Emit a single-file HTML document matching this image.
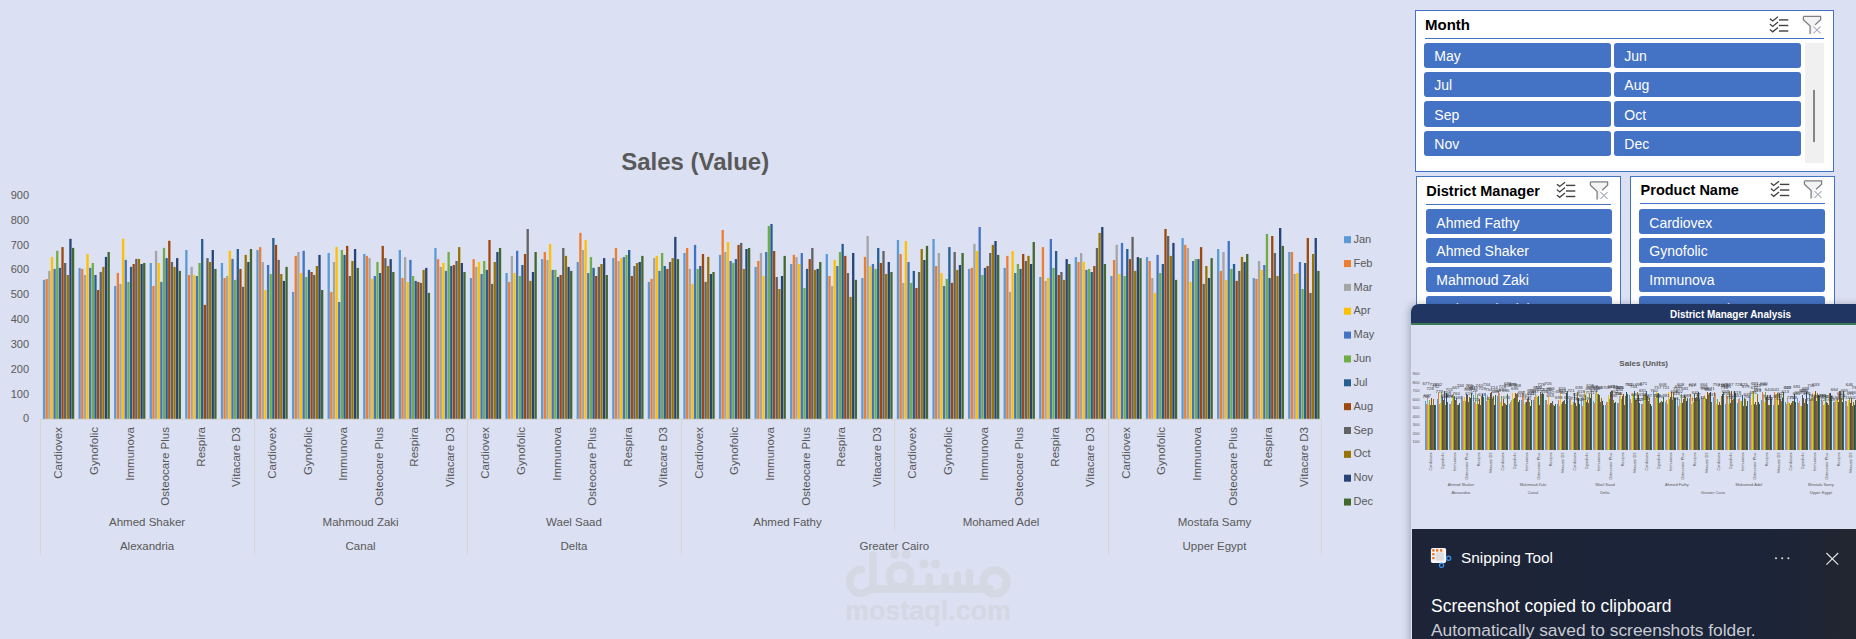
<!DOCTYPE html>
<html><head><meta charset="utf-8"><style>
html,body{margin:0;padding:0}
body{width:1856px;height:639px;overflow:hidden;position:relative;background:#DBE0F2;font-family:"Liberation Sans",sans-serif}
svg{font-family:"Liberation Sans",sans-serif}
.box{position:absolute;background:#FFFFFF;border:1px solid #4472C4}
.stitle{position:absolute;font-weight:bold;color:#000;white-space:nowrap;line-height:normal}
.uline{position:absolute;height:1.2px;background:#4472C4}
.btn{position:absolute;background:#4472C4;color:#FFFFFF;border-radius:3px;box-sizing:border-box;white-space:nowrap}
</style></head><body>
<svg style="position:absolute;left:0;top:0" width="1856" height="639">
<g fill="none" stroke="#D3D8E3" stroke-width="7.3" stroke-linecap="round" stroke-linejoin="round">
<path d="M861.5,569.5 A12,12 0 0 0 861.5,593.5"/>
<path d="M861.5,593.5 C866,593.5 868,589 874,589 L990,589"/>
<path d="M873,555 L873,589"/>
<circle cx="900" cy="576" r="10.9" stroke-width="7.2"/>
<path d="M929.2,577 L929.2,589 M945.2,577 L945.2,589 M957.4,575 L957.4,589 M969.5,572.5 L969.5,589"/>
<circle cx="995" cy="582" r="11.8" stroke-width="7.8"/>
</g>
<g fill="#D3D8E3"><circle cx="894.8" cy="554.3" r="4.6"/><circle cx="906.4" cy="554.3" r="4.6"/><circle cx="923.9" cy="564" r="4.6"/><circle cx="935.5" cy="564" r="4.6"/></g>
<text x="928" y="619.8" text-anchor="middle" font-weight="bold" font-size="27" fill="#D3D8E3" textLength="166" lengthAdjust="spacingAndGlyphs">mostaql.com</text>
<text x="695.2" y="170" text-anchor="middle" font-weight="bold" font-size="24" fill="#595959" textLength="148" lengthAdjust="spacingAndGlyphs">Sales (Value)</text>
<text x="29" y="422.47" text-anchor="end" font-size="11" fill="#595959">0</text>
<text x="29" y="397.64" text-anchor="end" font-size="11" fill="#595959">100</text>
<text x="29" y="372.81" text-anchor="end" font-size="11" fill="#595959">200</text>
<text x="29" y="347.98" text-anchor="end" font-size="11" fill="#595959">300</text>
<text x="29" y="323.15" text-anchor="end" font-size="11" fill="#595959">400</text>
<text x="29" y="298.32" text-anchor="end" font-size="11" fill="#595959">500</text>
<text x="29" y="273.49" text-anchor="end" font-size="11" fill="#595959">600</text>
<text x="29" y="248.66" text-anchor="end" font-size="11" fill="#595959">700</text>
<text x="29" y="223.83" text-anchor="end" font-size="11" fill="#595959">800</text>
<text x="29" y="199.00" text-anchor="end" font-size="11" fill="#595959">900</text>
<rect x="42.90" y="279.9" width="2.3" height="138.9" fill="#5B9BD5"/>
<rect x="45.54" y="279.1" width="2.3" height="139.7" fill="#ED7D31"/>
<rect x="48.18" y="270.9" width="2.3" height="147.9" fill="#A5A5A5"/>
<rect x="50.82" y="256.9" width="2.3" height="161.9" fill="#FFC000"/>
<rect x="53.46" y="268.9" width="2.3" height="149.9" fill="#4472C4"/>
<rect x="56.10" y="250.8" width="2.3" height="168.0" fill="#70AD47"/>
<rect x="58.74" y="267.9" width="2.3" height="150.9" fill="#255E91"/>
<rect x="61.38" y="247.1" width="2.3" height="171.7" fill="#9E480E"/>
<rect x="64.02" y="263.0" width="2.3" height="155.8" fill="#636363"/>
<rect x="66.66" y="275.0" width="2.3" height="143.8" fill="#997300"/>
<rect x="69.30" y="238.8" width="2.3" height="180.0" fill="#264478"/>
<rect x="71.94" y="247.9" width="2.3" height="170.9" fill="#43682B"/>
<rect x="78.48" y="267.9" width="2.3" height="150.9" fill="#5B9BD5"/>
<rect x="81.12" y="268.9" width="2.3" height="149.9" fill="#ED7D31"/>
<rect x="83.76" y="275.0" width="2.3" height="143.8" fill="#A5A5A5"/>
<rect x="86.40" y="254.0" width="2.3" height="164.8" fill="#FFC000"/>
<rect x="89.04" y="267.9" width="2.3" height="150.9" fill="#4472C4"/>
<rect x="91.68" y="263.0" width="2.3" height="155.8" fill="#70AD47"/>
<rect x="94.32" y="275.0" width="2.3" height="143.8" fill="#255E91"/>
<rect x="96.96" y="290.0" width="2.3" height="128.8" fill="#9E480E"/>
<rect x="99.60" y="271.9" width="2.3" height="146.9" fill="#636363"/>
<rect x="102.24" y="266.9" width="2.3" height="151.9" fill="#997300"/>
<rect x="104.88" y="256.9" width="2.3" height="161.9" fill="#264478"/>
<rect x="107.52" y="252.0" width="2.3" height="166.8" fill="#43682B"/>
<rect x="114.06" y="286.0" width="2.3" height="132.8" fill="#5B9BD5"/>
<rect x="116.70" y="272.9" width="2.3" height="145.9" fill="#ED7D31"/>
<rect x="119.34" y="284.0" width="2.3" height="134.8" fill="#A5A5A5"/>
<rect x="121.98" y="238.8" width="2.3" height="180.0" fill="#FFC000"/>
<rect x="124.62" y="259.9" width="2.3" height="158.9" fill="#4472C4"/>
<rect x="127.26" y="281.9" width="2.3" height="136.9" fill="#70AD47"/>
<rect x="129.90" y="266.9" width="2.3" height="151.9" fill="#255E91"/>
<rect x="132.54" y="264.0" width="2.3" height="154.8" fill="#9E480E"/>
<rect x="135.18" y="258.9" width="2.3" height="159.9" fill="#636363"/>
<rect x="137.82" y="258.9" width="2.3" height="159.9" fill="#997300"/>
<rect x="140.46" y="264.0" width="2.3" height="154.8" fill="#264478"/>
<rect x="143.10" y="263.0" width="2.3" height="155.8" fill="#43682B"/>
<rect x="149.64" y="263.0" width="2.3" height="155.8" fill="#5B9BD5"/>
<rect x="152.28" y="286.0" width="2.3" height="132.8" fill="#ED7D31"/>
<rect x="154.92" y="250.8" width="2.3" height="168.0" fill="#A5A5A5"/>
<rect x="157.56" y="263.0" width="2.3" height="155.8" fill="#FFC000"/>
<rect x="160.20" y="281.9" width="2.3" height="136.9" fill="#4472C4"/>
<rect x="162.84" y="247.9" width="2.3" height="170.9" fill="#70AD47"/>
<rect x="165.48" y="258.1" width="2.3" height="160.7" fill="#255E91"/>
<rect x="168.12" y="240.8" width="2.3" height="178.0" fill="#9E480E"/>
<rect x="170.76" y="262.0" width="2.3" height="156.8" fill="#636363"/>
<rect x="173.40" y="266.9" width="2.3" height="151.9" fill="#997300"/>
<rect x="176.04" y="258.1" width="2.3" height="160.7" fill="#264478"/>
<rect x="178.68" y="270.9" width="2.3" height="147.9" fill="#43682B"/>
<rect x="185.22" y="250.0" width="2.3" height="168.8" fill="#5B9BD5"/>
<rect x="187.86" y="275.0" width="2.3" height="143.8" fill="#ED7D31"/>
<rect x="190.50" y="266.9" width="2.3" height="151.9" fill="#A5A5A5"/>
<rect x="193.14" y="275.0" width="2.3" height="143.8" fill="#FFC000"/>
<rect x="195.78" y="276.0" width="2.3" height="142.8" fill="#4472C4"/>
<rect x="198.42" y="263.0" width="2.3" height="155.8" fill="#70AD47"/>
<rect x="201.06" y="239.0" width="2.3" height="179.8" fill="#255E91"/>
<rect x="203.70" y="304.9" width="2.3" height="113.9" fill="#9E480E"/>
<rect x="206.34" y="258.1" width="2.3" height="160.7" fill="#636363"/>
<rect x="208.98" y="262.0" width="2.3" height="156.8" fill="#997300"/>
<rect x="211.62" y="250.0" width="2.3" height="168.8" fill="#264478"/>
<rect x="214.26" y="268.9" width="2.3" height="149.9" fill="#43682B"/>
<rect x="220.80" y="263.0" width="2.3" height="155.8" fill="#5B9BD5"/>
<rect x="223.44" y="278.0" width="2.3" height="140.8" fill="#ED7D31"/>
<rect x="226.08" y="276.0" width="2.3" height="142.8" fill="#A5A5A5"/>
<rect x="228.72" y="250.8" width="2.3" height="168.0" fill="#FFC000"/>
<rect x="231.36" y="258.9" width="2.3" height="159.9" fill="#4472C4"/>
<rect x="234.00" y="279.9" width="2.3" height="138.9" fill="#70AD47"/>
<rect x="236.64" y="249.0" width="2.3" height="169.8" fill="#255E91"/>
<rect x="239.28" y="268.9" width="2.3" height="149.9" fill="#9E480E"/>
<rect x="241.92" y="286.8" width="2.3" height="132.0" fill="#636363"/>
<rect x="244.56" y="254.9" width="2.3" height="163.9" fill="#997300"/>
<rect x="247.20" y="262.0" width="2.3" height="156.8" fill="#264478"/>
<rect x="249.84" y="249.0" width="2.3" height="169.8" fill="#43682B"/>
<rect x="256.38" y="250.0" width="2.3" height="168.8" fill="#5B9BD5"/>
<rect x="259.02" y="247.1" width="2.3" height="171.7" fill="#ED7D31"/>
<rect x="261.66" y="262.0" width="2.3" height="156.8" fill="#A5A5A5"/>
<rect x="264.30" y="290.0" width="2.3" height="128.8" fill="#FFC000"/>
<rect x="266.94" y="265.0" width="2.3" height="153.8" fill="#4472C4"/>
<rect x="269.58" y="274.0" width="2.3" height="144.8" fill="#70AD47"/>
<rect x="272.22" y="238.0" width="2.3" height="180.8" fill="#255E91"/>
<rect x="274.86" y="244.9" width="2.3" height="173.9" fill="#9E480E"/>
<rect x="277.50" y="259.9" width="2.3" height="158.9" fill="#636363"/>
<rect x="280.14" y="274.0" width="2.3" height="144.8" fill="#997300"/>
<rect x="282.78" y="280.9" width="2.3" height="137.9" fill="#264478"/>
<rect x="285.42" y="266.9" width="2.3" height="151.9" fill="#43682B"/>
<rect x="291.96" y="291.9" width="2.3" height="126.9" fill="#5B9BD5"/>
<rect x="294.60" y="255.9" width="2.3" height="162.9" fill="#ED7D31"/>
<rect x="297.24" y="252.0" width="2.3" height="166.8" fill="#A5A5A5"/>
<rect x="299.88" y="273.0" width="2.3" height="145.8" fill="#FFC000"/>
<rect x="302.52" y="250.8" width="2.3" height="168.0" fill="#4472C4"/>
<rect x="305.16" y="277.0" width="2.3" height="141.8" fill="#70AD47"/>
<rect x="307.80" y="269.9" width="2.3" height="148.9" fill="#255E91"/>
<rect x="310.44" y="272.0" width="2.3" height="146.8" fill="#9E480E"/>
<rect x="313.08" y="275.0" width="2.3" height="143.8" fill="#636363"/>
<rect x="315.72" y="266.0" width="2.3" height="152.8" fill="#997300"/>
<rect x="318.36" y="254.9" width="2.3" height="163.9" fill="#264478"/>
<rect x="321.00" y="290.0" width="2.3" height="128.8" fill="#43682B"/>
<rect x="327.54" y="253.0" width="2.3" height="165.8" fill="#5B9BD5"/>
<rect x="330.18" y="291.9" width="2.3" height="126.9" fill="#ED7D31"/>
<rect x="332.82" y="262.0" width="2.3" height="156.8" fill="#A5A5A5"/>
<rect x="335.46" y="247.1" width="2.3" height="171.7" fill="#FFC000"/>
<rect x="338.10" y="302.0" width="2.3" height="116.8" fill="#4472C4"/>
<rect x="340.74" y="250.0" width="2.3" height="168.8" fill="#70AD47"/>
<rect x="343.38" y="254.9" width="2.3" height="163.9" fill="#255E91"/>
<rect x="346.02" y="245.9" width="2.3" height="172.9" fill="#9E480E"/>
<rect x="348.66" y="276.0" width="2.3" height="142.8" fill="#636363"/>
<rect x="351.30" y="261.0" width="2.3" height="157.8" fill="#997300"/>
<rect x="353.94" y="249.0" width="2.3" height="169.8" fill="#264478"/>
<rect x="356.58" y="267.9" width="2.3" height="150.9" fill="#43682B"/>
<rect x="363.12" y="254.0" width="2.3" height="164.8" fill="#5B9BD5"/>
<rect x="365.76" y="255.9" width="2.3" height="162.9" fill="#ED7D31"/>
<rect x="368.40" y="258.1" width="2.3" height="160.7" fill="#A5A5A5"/>
<rect x="371.04" y="278.9" width="2.3" height="139.9" fill="#FFC000"/>
<rect x="373.68" y="276.0" width="2.3" height="142.8" fill="#4472C4"/>
<rect x="376.32" y="262.0" width="2.3" height="156.8" fill="#70AD47"/>
<rect x="378.96" y="273.0" width="2.3" height="145.8" fill="#255E91"/>
<rect x="381.60" y="245.9" width="2.3" height="172.9" fill="#9E480E"/>
<rect x="384.24" y="258.1" width="2.3" height="160.7" fill="#636363"/>
<rect x="386.88" y="266.0" width="2.3" height="152.8" fill="#997300"/>
<rect x="389.52" y="259.1" width="2.3" height="159.7" fill="#264478"/>
<rect x="392.16" y="272.0" width="2.3" height="146.8" fill="#43682B"/>
<rect x="398.70" y="250.0" width="2.3" height="168.8" fill="#5B9BD5"/>
<rect x="401.34" y="278.0" width="2.3" height="140.8" fill="#ED7D31"/>
<rect x="403.98" y="257.1" width="2.3" height="161.7" fill="#A5A5A5"/>
<rect x="406.62" y="281.9" width="2.3" height="136.9" fill="#FFC000"/>
<rect x="409.26" y="259.9" width="2.3" height="158.9" fill="#4472C4"/>
<rect x="411.90" y="276.0" width="2.3" height="142.8" fill="#70AD47"/>
<rect x="414.54" y="280.9" width="2.3" height="137.9" fill="#255E91"/>
<rect x="417.18" y="281.9" width="2.3" height="136.9" fill="#9E480E"/>
<rect x="419.82" y="282.9" width="2.3" height="135.9" fill="#636363"/>
<rect x="422.46" y="269.9" width="2.3" height="148.9" fill="#997300"/>
<rect x="425.10" y="267.9" width="2.3" height="150.9" fill="#264478"/>
<rect x="427.74" y="292.9" width="2.3" height="125.9" fill="#43682B"/>
<rect x="434.28" y="248.0" width="2.3" height="170.8" fill="#5B9BD5"/>
<rect x="436.92" y="259.1" width="2.3" height="159.7" fill="#ED7D31"/>
<rect x="439.56" y="266.9" width="2.3" height="151.9" fill="#A5A5A5"/>
<rect x="442.20" y="263.0" width="2.3" height="155.8" fill="#FFC000"/>
<rect x="444.84" y="270.9" width="2.3" height="147.9" fill="#4472C4"/>
<rect x="447.48" y="252.0" width="2.3" height="166.8" fill="#70AD47"/>
<rect x="450.12" y="266.0" width="2.3" height="152.8" fill="#255E91"/>
<rect x="452.76" y="265.0" width="2.3" height="153.8" fill="#9E480E"/>
<rect x="455.40" y="261.0" width="2.3" height="157.8" fill="#636363"/>
<rect x="458.04" y="247.1" width="2.3" height="171.7" fill="#997300"/>
<rect x="460.68" y="263.0" width="2.3" height="155.8" fill="#264478"/>
<rect x="463.32" y="272.0" width="2.3" height="146.8" fill="#43682B"/>
<rect x="469.86" y="278.0" width="2.3" height="140.8" fill="#5B9BD5"/>
<rect x="472.50" y="259.1" width="2.3" height="159.7" fill="#ED7D31"/>
<rect x="475.14" y="266.9" width="2.3" height="151.9" fill="#A5A5A5"/>
<rect x="477.78" y="262.0" width="2.3" height="156.8" fill="#FFC000"/>
<rect x="480.42" y="274.0" width="2.3" height="144.8" fill="#4472C4"/>
<rect x="483.06" y="261.0" width="2.3" height="157.8" fill="#70AD47"/>
<rect x="485.70" y="269.9" width="2.3" height="148.9" fill="#255E91"/>
<rect x="488.34" y="240.0" width="2.3" height="178.8" fill="#9E480E"/>
<rect x="490.98" y="283.9" width="2.3" height="134.9" fill="#636363"/>
<rect x="493.62" y="262.0" width="2.3" height="156.8" fill="#997300"/>
<rect x="496.26" y="252.0" width="2.3" height="166.8" fill="#264478"/>
<rect x="498.90" y="248.0" width="2.3" height="170.8" fill="#43682B"/>
<rect x="505.44" y="273.0" width="2.3" height="145.8" fill="#5B9BD5"/>
<rect x="508.08" y="281.9" width="2.3" height="136.9" fill="#ED7D31"/>
<rect x="510.72" y="255.9" width="2.3" height="162.9" fill="#A5A5A5"/>
<rect x="513.36" y="273.0" width="2.3" height="145.8" fill="#FFC000"/>
<rect x="516.00" y="250.8" width="2.3" height="168.0" fill="#4472C4"/>
<rect x="518.64" y="276.0" width="2.3" height="142.8" fill="#70AD47"/>
<rect x="521.28" y="265.0" width="2.3" height="153.8" fill="#255E91"/>
<rect x="523.92" y="254.0" width="2.3" height="164.8" fill="#9E480E"/>
<rect x="526.56" y="229.0" width="2.3" height="189.8" fill="#636363"/>
<rect x="529.20" y="280.9" width="2.3" height="137.9" fill="#997300"/>
<rect x="531.84" y="272.0" width="2.3" height="146.8" fill="#264478"/>
<rect x="534.48" y="252.0" width="2.3" height="166.8" fill="#43682B"/>
<rect x="541.02" y="259.1" width="2.3" height="159.7" fill="#5B9BD5"/>
<rect x="543.66" y="252.0" width="2.3" height="166.8" fill="#ED7D31"/>
<rect x="546.30" y="260.0" width="2.3" height="158.8" fill="#A5A5A5"/>
<rect x="548.94" y="243.9" width="2.3" height="174.9" fill="#FFC000"/>
<rect x="551.58" y="269.9" width="2.3" height="148.9" fill="#4472C4"/>
<rect x="554.22" y="269.9" width="2.3" height="148.9" fill="#70AD47"/>
<rect x="556.86" y="277.0" width="2.3" height="141.8" fill="#255E91"/>
<rect x="559.50" y="275.0" width="2.3" height="143.8" fill="#9E480E"/>
<rect x="562.14" y="248.0" width="2.3" height="170.8" fill="#636363"/>
<rect x="564.78" y="255.9" width="2.3" height="162.9" fill="#997300"/>
<rect x="567.42" y="266.9" width="2.3" height="151.9" fill="#264478"/>
<rect x="570.06" y="270.9" width="2.3" height="147.9" fill="#43682B"/>
<rect x="576.60" y="262.0" width="2.3" height="156.8" fill="#5B9BD5"/>
<rect x="579.24" y="232.9" width="2.3" height="185.9" fill="#ED7D31"/>
<rect x="581.88" y="250.0" width="2.3" height="168.8" fill="#A5A5A5"/>
<rect x="584.52" y="240.0" width="2.3" height="178.8" fill="#FFC000"/>
<rect x="587.16" y="273.0" width="2.3" height="145.8" fill="#4472C4"/>
<rect x="589.80" y="257.1" width="2.3" height="161.7" fill="#70AD47"/>
<rect x="592.44" y="267.9" width="2.3" height="150.9" fill="#255E91"/>
<rect x="595.08" y="276.0" width="2.3" height="142.8" fill="#9E480E"/>
<rect x="597.72" y="266.9" width="2.3" height="151.9" fill="#636363"/>
<rect x="600.36" y="264.0" width="2.3" height="154.8" fill="#997300"/>
<rect x="603.00" y="258.1" width="2.3" height="160.7" fill="#264478"/>
<rect x="605.64" y="275.0" width="2.3" height="143.8" fill="#43682B"/>
<rect x="612.18" y="258.1" width="2.3" height="160.7" fill="#5B9BD5"/>
<rect x="614.82" y="248.0" width="2.3" height="170.8" fill="#ED7D31"/>
<rect x="617.46" y="261.0" width="2.3" height="157.8" fill="#A5A5A5"/>
<rect x="620.10" y="258.1" width="2.3" height="160.7" fill="#FFC000"/>
<rect x="622.74" y="257.1" width="2.3" height="161.7" fill="#4472C4"/>
<rect x="625.38" y="254.9" width="2.3" height="163.9" fill="#70AD47"/>
<rect x="628.02" y="250.0" width="2.3" height="168.8" fill="#255E91"/>
<rect x="630.66" y="276.0" width="2.3" height="142.8" fill="#9E480E"/>
<rect x="633.30" y="266.0" width="2.3" height="152.8" fill="#636363"/>
<rect x="635.94" y="263.0" width="2.3" height="155.8" fill="#997300"/>
<rect x="638.58" y="262.0" width="2.3" height="156.8" fill="#264478"/>
<rect x="641.22" y="255.9" width="2.3" height="162.9" fill="#43682B"/>
<rect x="647.76" y="281.9" width="2.3" height="136.9" fill="#5B9BD5"/>
<rect x="650.40" y="278.9" width="2.3" height="139.9" fill="#ED7D31"/>
<rect x="653.04" y="258.1" width="2.3" height="160.7" fill="#A5A5A5"/>
<rect x="655.68" y="255.9" width="2.3" height="162.9" fill="#FFC000"/>
<rect x="658.32" y="270.9" width="2.3" height="147.9" fill="#4472C4"/>
<rect x="660.96" y="253.0" width="2.3" height="165.8" fill="#70AD47"/>
<rect x="663.60" y="266.0" width="2.3" height="152.8" fill="#255E91"/>
<rect x="666.24" y="268.9" width="2.3" height="149.9" fill="#9E480E"/>
<rect x="668.88" y="262.0" width="2.3" height="156.8" fill="#636363"/>
<rect x="671.52" y="258.1" width="2.3" height="160.7" fill="#997300"/>
<rect x="674.16" y="236.9" width="2.3" height="181.9" fill="#264478"/>
<rect x="676.80" y="259.1" width="2.3" height="159.7" fill="#43682B"/>
<rect x="683.34" y="253.0" width="2.3" height="165.8" fill="#5B9BD5"/>
<rect x="685.98" y="248.0" width="2.3" height="170.8" fill="#ED7D31"/>
<rect x="688.62" y="268.9" width="2.3" height="149.9" fill="#A5A5A5"/>
<rect x="691.26" y="283.9" width="2.3" height="134.9" fill="#FFC000"/>
<rect x="693.90" y="244.9" width="2.3" height="173.9" fill="#4472C4"/>
<rect x="696.54" y="268.9" width="2.3" height="149.9" fill="#70AD47"/>
<rect x="699.18" y="266.0" width="2.3" height="152.8" fill="#255E91"/>
<rect x="701.82" y="254.0" width="2.3" height="164.8" fill="#9E480E"/>
<rect x="704.46" y="281.9" width="2.3" height="136.9" fill="#636363"/>
<rect x="707.10" y="256.9" width="2.3" height="161.9" fill="#997300"/>
<rect x="709.74" y="274.0" width="2.3" height="144.8" fill="#264478"/>
<rect x="712.38" y="272.0" width="2.3" height="146.8" fill="#43682B"/>
<rect x="718.92" y="254.9" width="2.3" height="163.9" fill="#5B9BD5"/>
<rect x="721.56" y="230.0" width="2.3" height="188.8" fill="#ED7D31"/>
<rect x="724.20" y="252.0" width="2.3" height="166.8" fill="#A5A5A5"/>
<rect x="726.84" y="242.0" width="2.3" height="176.8" fill="#FFC000"/>
<rect x="729.48" y="261.0" width="2.3" height="157.8" fill="#4472C4"/>
<rect x="732.12" y="263.0" width="2.3" height="155.8" fill="#70AD47"/>
<rect x="734.76" y="259.1" width="2.3" height="159.7" fill="#255E91"/>
<rect x="737.40" y="244.9" width="2.3" height="173.9" fill="#9E480E"/>
<rect x="740.04" y="242.9" width="2.3" height="175.9" fill="#636363"/>
<rect x="742.68" y="268.9" width="2.3" height="149.9" fill="#997300"/>
<rect x="745.32" y="249.0" width="2.3" height="169.8" fill="#264478"/>
<rect x="747.96" y="248.0" width="2.3" height="170.8" fill="#43682B"/>
<rect x="754.50" y="266.9" width="2.3" height="151.9" fill="#5B9BD5"/>
<rect x="757.14" y="261.0" width="2.3" height="157.8" fill="#ED7D31"/>
<rect x="759.78" y="253.0" width="2.3" height="165.8" fill="#A5A5A5"/>
<rect x="762.42" y="276.0" width="2.3" height="142.8" fill="#FFC000"/>
<rect x="765.06" y="252.0" width="2.3" height="166.8" fill="#4472C4"/>
<rect x="767.70" y="226.0" width="2.3" height="192.8" fill="#70AD47"/>
<rect x="770.34" y="224.0" width="2.3" height="194.8" fill="#255E91"/>
<rect x="772.98" y="251.0" width="2.3" height="167.8" fill="#9E480E"/>
<rect x="775.62" y="277.0" width="2.3" height="141.8" fill="#636363"/>
<rect x="778.26" y="289.0" width="2.3" height="129.8" fill="#997300"/>
<rect x="780.90" y="276.0" width="2.3" height="142.8" fill="#264478"/>
<rect x="783.54" y="255.9" width="2.3" height="162.9" fill="#43682B"/>
<rect x="790.08" y="264.0" width="2.3" height="154.8" fill="#5B9BD5"/>
<rect x="792.72" y="254.9" width="2.3" height="163.9" fill="#ED7D31"/>
<rect x="795.36" y="257.1" width="2.3" height="161.7" fill="#A5A5A5"/>
<rect x="798.00" y="264.0" width="2.3" height="154.8" fill="#FFC000"/>
<rect x="800.64" y="253.0" width="2.3" height="165.8" fill="#4472C4"/>
<rect x="803.28" y="288.0" width="2.3" height="130.8" fill="#70AD47"/>
<rect x="805.92" y="268.9" width="2.3" height="149.9" fill="#255E91"/>
<rect x="808.56" y="259.1" width="2.3" height="159.7" fill="#9E480E"/>
<rect x="811.20" y="248.0" width="2.3" height="170.8" fill="#636363"/>
<rect x="813.84" y="269.9" width="2.3" height="148.9" fill="#997300"/>
<rect x="816.48" y="268.9" width="2.3" height="149.9" fill="#264478"/>
<rect x="819.12" y="262.0" width="2.3" height="156.8" fill="#43682B"/>
<rect x="825.66" y="254.0" width="2.3" height="164.8" fill="#5B9BD5"/>
<rect x="828.30" y="276.0" width="2.3" height="142.8" fill="#ED7D31"/>
<rect x="830.94" y="286.0" width="2.3" height="132.8" fill="#A5A5A5"/>
<rect x="833.58" y="260.0" width="2.3" height="158.8" fill="#FFC000"/>
<rect x="836.22" y="266.0" width="2.3" height="152.8" fill="#4472C4"/>
<rect x="838.86" y="252.0" width="2.3" height="166.8" fill="#70AD47"/>
<rect x="841.50" y="243.9" width="2.3" height="174.9" fill="#255E91"/>
<rect x="844.14" y="255.9" width="2.3" height="162.9" fill="#9E480E"/>
<rect x="846.78" y="273.0" width="2.3" height="145.8" fill="#636363"/>
<rect x="849.42" y="296.9" width="2.3" height="121.9" fill="#997300"/>
<rect x="852.06" y="253.0" width="2.3" height="165.8" fill="#264478"/>
<rect x="854.70" y="279.9" width="2.3" height="138.9" fill="#43682B"/>
<rect x="861.24" y="278.0" width="2.3" height="140.8" fill="#5B9BD5"/>
<rect x="863.88" y="256.9" width="2.3" height="161.9" fill="#ED7D31"/>
<rect x="866.52" y="236.0" width="2.3" height="182.8" fill="#A5A5A5"/>
<rect x="869.16" y="266.0" width="2.3" height="152.8" fill="#FFC000"/>
<rect x="871.80" y="264.0" width="2.3" height="154.8" fill="#4472C4"/>
<rect x="874.44" y="268.9" width="2.3" height="149.9" fill="#70AD47"/>
<rect x="877.08" y="248.0" width="2.3" height="170.8" fill="#255E91"/>
<rect x="879.72" y="263.0" width="2.3" height="155.8" fill="#9E480E"/>
<rect x="882.36" y="251.0" width="2.3" height="167.8" fill="#636363"/>
<rect x="885.00" y="274.0" width="2.3" height="144.8" fill="#997300"/>
<rect x="887.64" y="262.0" width="2.3" height="156.8" fill="#264478"/>
<rect x="890.28" y="272.0" width="2.3" height="146.8" fill="#43682B"/>
<rect x="896.82" y="240.0" width="2.3" height="178.8" fill="#5B9BD5"/>
<rect x="899.46" y="254.0" width="2.3" height="164.8" fill="#ED7D31"/>
<rect x="902.10" y="282.9" width="2.3" height="135.9" fill="#A5A5A5"/>
<rect x="904.74" y="241.0" width="2.3" height="177.8" fill="#FFC000"/>
<rect x="907.38" y="262.0" width="2.3" height="156.8" fill="#4472C4"/>
<rect x="910.02" y="282.9" width="2.3" height="135.9" fill="#70AD47"/>
<rect x="912.66" y="270.9" width="2.3" height="147.9" fill="#255E91"/>
<rect x="915.30" y="288.0" width="2.3" height="130.8" fill="#9E480E"/>
<rect x="917.94" y="272.0" width="2.3" height="146.8" fill="#636363"/>
<rect x="920.58" y="249.0" width="2.3" height="169.8" fill="#997300"/>
<rect x="923.22" y="260.0" width="2.3" height="158.8" fill="#264478"/>
<rect x="925.86" y="245.9" width="2.3" height="172.9" fill="#43682B"/>
<rect x="932.40" y="239.0" width="2.3" height="179.8" fill="#5B9BD5"/>
<rect x="935.04" y="266.0" width="2.3" height="152.8" fill="#ED7D31"/>
<rect x="937.68" y="253.0" width="2.3" height="165.8" fill="#A5A5A5"/>
<rect x="940.32" y="273.0" width="2.3" height="145.8" fill="#FFC000"/>
<rect x="942.96" y="286.0" width="2.3" height="132.8" fill="#4472C4"/>
<rect x="945.60" y="278.9" width="2.3" height="139.9" fill="#70AD47"/>
<rect x="948.24" y="247.1" width="2.3" height="171.7" fill="#255E91"/>
<rect x="950.88" y="282.9" width="2.3" height="135.9" fill="#9E480E"/>
<rect x="953.52" y="252.0" width="2.3" height="166.8" fill="#636363"/>
<rect x="956.16" y="269.9" width="2.3" height="148.9" fill="#997300"/>
<rect x="958.80" y="265.0" width="2.3" height="153.8" fill="#264478"/>
<rect x="961.44" y="253.0" width="2.3" height="165.8" fill="#43682B"/>
<rect x="967.98" y="268.9" width="2.3" height="149.9" fill="#5B9BD5"/>
<rect x="970.62" y="267.9" width="2.3" height="150.9" fill="#ED7D31"/>
<rect x="973.26" y="243.9" width="2.3" height="174.9" fill="#A5A5A5"/>
<rect x="975.90" y="251.0" width="2.3" height="167.8" fill="#FFC000"/>
<rect x="978.54" y="227.0" width="2.3" height="191.8" fill="#4472C4"/>
<rect x="981.18" y="275.0" width="2.3" height="143.8" fill="#70AD47"/>
<rect x="983.82" y="267.9" width="2.3" height="150.9" fill="#255E91"/>
<rect x="986.46" y="266.0" width="2.3" height="152.8" fill="#9E480E"/>
<rect x="989.10" y="253.0" width="2.3" height="165.8" fill="#636363"/>
<rect x="991.74" y="244.9" width="2.3" height="173.9" fill="#997300"/>
<rect x="994.38" y="241.0" width="2.3" height="177.8" fill="#264478"/>
<rect x="997.02" y="254.9" width="2.3" height="163.9" fill="#43682B"/>
<rect x="1003.56" y="267.9" width="2.3" height="150.9" fill="#5B9BD5"/>
<rect x="1006.20" y="255.9" width="2.3" height="162.9" fill="#ED7D31"/>
<rect x="1008.84" y="291.9" width="2.3" height="126.9" fill="#A5A5A5"/>
<rect x="1011.48" y="251.0" width="2.3" height="167.8" fill="#FFC000"/>
<rect x="1014.12" y="273.0" width="2.3" height="145.8" fill="#4472C4"/>
<rect x="1016.76" y="264.0" width="2.3" height="154.8" fill="#70AD47"/>
<rect x="1019.40" y="268.9" width="2.3" height="149.9" fill="#255E91"/>
<rect x="1022.04" y="254.0" width="2.3" height="164.8" fill="#9E480E"/>
<rect x="1024.68" y="261.0" width="2.3" height="157.8" fill="#636363"/>
<rect x="1027.32" y="255.9" width="2.3" height="162.9" fill="#997300"/>
<rect x="1029.96" y="264.0" width="2.3" height="154.8" fill="#264478"/>
<rect x="1032.60" y="242.0" width="2.3" height="176.8" fill="#43682B"/>
<rect x="1039.14" y="277.0" width="2.3" height="141.8" fill="#5B9BD5"/>
<rect x="1041.78" y="247.1" width="2.3" height="171.7" fill="#ED7D31"/>
<rect x="1044.42" y="280.9" width="2.3" height="137.9" fill="#A5A5A5"/>
<rect x="1047.06" y="278.0" width="2.3" height="140.8" fill="#FFC000"/>
<rect x="1049.70" y="239.0" width="2.3" height="179.8" fill="#4472C4"/>
<rect x="1052.34" y="267.9" width="2.3" height="150.9" fill="#70AD47"/>
<rect x="1054.98" y="251.0" width="2.3" height="167.8" fill="#255E91"/>
<rect x="1057.62" y="275.0" width="2.3" height="143.8" fill="#9E480E"/>
<rect x="1060.26" y="272.0" width="2.3" height="146.8" fill="#636363"/>
<rect x="1062.90" y="279.9" width="2.3" height="138.9" fill="#997300"/>
<rect x="1065.54" y="259.1" width="2.3" height="159.7" fill="#264478"/>
<rect x="1068.18" y="264.0" width="2.3" height="154.8" fill="#43682B"/>
<rect x="1074.72" y="257.1" width="2.3" height="161.7" fill="#5B9BD5"/>
<rect x="1077.36" y="262.0" width="2.3" height="156.8" fill="#ED7D31"/>
<rect x="1080.00" y="253.0" width="2.3" height="165.8" fill="#A5A5A5"/>
<rect x="1082.64" y="262.0" width="2.3" height="156.8" fill="#FFC000"/>
<rect x="1085.28" y="269.9" width="2.3" height="148.9" fill="#4472C4"/>
<rect x="1087.92" y="268.9" width="2.3" height="149.9" fill="#70AD47"/>
<rect x="1090.56" y="272.0" width="2.3" height="146.8" fill="#255E91"/>
<rect x="1093.20" y="266.0" width="2.3" height="152.8" fill="#9E480E"/>
<rect x="1095.84" y="248.0" width="2.3" height="170.8" fill="#636363"/>
<rect x="1098.48" y="232.9" width="2.3" height="185.9" fill="#997300"/>
<rect x="1101.12" y="227.0" width="2.3" height="191.8" fill="#264478"/>
<rect x="1103.76" y="264.0" width="2.3" height="154.8" fill="#43682B"/>
<rect x="1110.30" y="276.0" width="2.3" height="142.8" fill="#5B9BD5"/>
<rect x="1112.94" y="260.0" width="2.3" height="158.8" fill="#ED7D31"/>
<rect x="1115.58" y="244.9" width="2.3" height="173.9" fill="#A5A5A5"/>
<rect x="1118.22" y="274.0" width="2.3" height="144.8" fill="#FFC000"/>
<rect x="1120.86" y="242.9" width="2.3" height="175.9" fill="#4472C4"/>
<rect x="1123.50" y="276.0" width="2.3" height="142.8" fill="#70AD47"/>
<rect x="1126.14" y="249.0" width="2.3" height="169.8" fill="#255E91"/>
<rect x="1128.78" y="259.1" width="2.3" height="159.7" fill="#9E480E"/>
<rect x="1131.42" y="236.9" width="2.3" height="181.9" fill="#636363"/>
<rect x="1134.06" y="270.9" width="2.3" height="147.9" fill="#997300"/>
<rect x="1136.70" y="257.1" width="2.3" height="161.7" fill="#264478"/>
<rect x="1139.34" y="258.1" width="2.3" height="160.7" fill="#43682B"/>
<rect x="1145.88" y="257.1" width="2.3" height="161.7" fill="#5B9BD5"/>
<rect x="1148.52" y="261.0" width="2.3" height="157.8" fill="#ED7D31"/>
<rect x="1151.16" y="278.0" width="2.3" height="140.8" fill="#A5A5A5"/>
<rect x="1153.80" y="292.9" width="2.3" height="125.9" fill="#FFC000"/>
<rect x="1156.44" y="254.9" width="2.3" height="163.9" fill="#4472C4"/>
<rect x="1159.08" y="273.0" width="2.3" height="145.8" fill="#70AD47"/>
<rect x="1161.72" y="264.0" width="2.3" height="154.8" fill="#255E91"/>
<rect x="1164.36" y="229.0" width="2.3" height="189.8" fill="#9E480E"/>
<rect x="1167.00" y="236.0" width="2.3" height="182.8" fill="#636363"/>
<rect x="1169.64" y="255.9" width="2.3" height="162.9" fill="#997300"/>
<rect x="1172.28" y="242.9" width="2.3" height="175.9" fill="#264478"/>
<rect x="1174.92" y="279.9" width="2.3" height="138.9" fill="#43682B"/>
<rect x="1181.46" y="238.0" width="2.3" height="180.8" fill="#5B9BD5"/>
<rect x="1184.10" y="244.9" width="2.3" height="173.9" fill="#ED7D31"/>
<rect x="1186.74" y="248.0" width="2.3" height="170.8" fill="#A5A5A5"/>
<rect x="1189.38" y="281.9" width="2.3" height="136.9" fill="#FFC000"/>
<rect x="1192.02" y="261.0" width="2.3" height="157.8" fill="#4472C4"/>
<rect x="1194.66" y="259.1" width="2.3" height="159.7" fill="#70AD47"/>
<rect x="1197.30" y="259.1" width="2.3" height="159.7" fill="#255E91"/>
<rect x="1199.94" y="247.1" width="2.3" height="171.7" fill="#9E480E"/>
<rect x="1202.58" y="283.9" width="2.3" height="134.9" fill="#636363"/>
<rect x="1205.22" y="266.0" width="2.3" height="152.8" fill="#997300"/>
<rect x="1207.86" y="278.0" width="2.3" height="140.8" fill="#264478"/>
<rect x="1210.50" y="258.1" width="2.3" height="160.7" fill="#43682B"/>
<rect x="1217.04" y="249.0" width="2.3" height="169.8" fill="#5B9BD5"/>
<rect x="1219.68" y="270.9" width="2.3" height="147.9" fill="#ED7D31"/>
<rect x="1222.32" y="252.0" width="2.3" height="166.8" fill="#A5A5A5"/>
<rect x="1224.96" y="279.9" width="2.3" height="138.9" fill="#FFC000"/>
<rect x="1227.60" y="241.0" width="2.3" height="177.8" fill="#4472C4"/>
<rect x="1230.24" y="268.9" width="2.3" height="149.9" fill="#70AD47"/>
<rect x="1232.88" y="264.0" width="2.3" height="154.8" fill="#255E91"/>
<rect x="1235.52" y="280.9" width="2.3" height="137.9" fill="#9E480E"/>
<rect x="1238.16" y="270.9" width="2.3" height="147.9" fill="#636363"/>
<rect x="1240.80" y="256.9" width="2.3" height="161.9" fill="#997300"/>
<rect x="1243.44" y="262.0" width="2.3" height="156.8" fill="#264478"/>
<rect x="1246.08" y="254.0" width="2.3" height="164.8" fill="#43682B"/>
<rect x="1252.62" y="278.0" width="2.3" height="140.8" fill="#5B9BD5"/>
<rect x="1255.26" y="278.9" width="2.3" height="139.9" fill="#ED7D31"/>
<rect x="1257.90" y="261.0" width="2.3" height="157.8" fill="#A5A5A5"/>
<rect x="1260.54" y="269.9" width="2.3" height="148.9" fill="#FFC000"/>
<rect x="1263.18" y="265.0" width="2.3" height="153.8" fill="#4472C4"/>
<rect x="1265.82" y="233.9" width="2.3" height="184.9" fill="#70AD47"/>
<rect x="1268.46" y="278.0" width="2.3" height="140.8" fill="#255E91"/>
<rect x="1271.10" y="236.0" width="2.3" height="182.8" fill="#9E480E"/>
<rect x="1273.74" y="253.0" width="2.3" height="165.8" fill="#636363"/>
<rect x="1276.38" y="276.0" width="2.3" height="142.8" fill="#997300"/>
<rect x="1279.02" y="228.0" width="2.3" height="190.8" fill="#264478"/>
<rect x="1281.66" y="245.9" width="2.3" height="172.9" fill="#43682B"/>
<rect x="1288.20" y="252.0" width="2.3" height="166.8" fill="#5B9BD5"/>
<rect x="1290.84" y="252.0" width="2.3" height="166.8" fill="#ED7D31"/>
<rect x="1293.48" y="274.0" width="2.3" height="144.8" fill="#A5A5A5"/>
<rect x="1296.12" y="273.0" width="2.3" height="145.8" fill="#FFC000"/>
<rect x="1298.76" y="262.0" width="2.3" height="156.8" fill="#4472C4"/>
<rect x="1301.40" y="289.0" width="2.3" height="129.8" fill="#70AD47"/>
<rect x="1304.04" y="263.0" width="2.3" height="155.8" fill="#255E91"/>
<rect x="1306.68" y="238.0" width="2.3" height="180.8" fill="#9E480E"/>
<rect x="1309.32" y="292.9" width="2.3" height="125.9" fill="#636363"/>
<rect x="1311.96" y="254.0" width="2.3" height="164.8" fill="#997300"/>
<rect x="1314.60" y="238.0" width="2.3" height="180.8" fill="#264478"/>
<rect x="1317.24" y="270.9" width="2.3" height="147.9" fill="#43682B"/>
<rect x="40" y="419" width="1282" height="1" fill="#D6D5D2"/>
<rect x="40" y="419" width="1" height="136" fill="#D6D5D2"/>
<rect x="254" y="419" width="1" height="136" fill="#D6D5D2"/>
<rect x="467" y="419" width="1" height="136" fill="#D6D5D2"/>
<rect x="681" y="419" width="1" height="136" fill="#D6D5D2"/>
<rect x="894" y="419" width="1" height="112" fill="#D6D5D2"/>
<rect x="1108" y="419" width="1" height="136" fill="#D6D5D2"/>
<rect x="1321" y="419" width="1" height="136" fill="#D6D5D2"/>
<text transform="translate(62.4,427) rotate(-90)" text-anchor="end" font-size="11.5" fill="#595959">Cardiovex</text>
<text transform="translate(98.0,427) rotate(-90)" text-anchor="end" font-size="11.5" fill="#595959">Gynofolic</text>
<text transform="translate(133.6,427) rotate(-90)" text-anchor="end" font-size="11.5" fill="#595959">Immunova</text>
<text transform="translate(169.1,427) rotate(-90)" text-anchor="end" font-size="11.5" fill="#595959">Osteocare Plus</text>
<text transform="translate(204.7,427) rotate(-90)" text-anchor="end" font-size="11.5" fill="#595959">Respira</text>
<text transform="translate(240.3,427) rotate(-90)" text-anchor="end" font-size="11.5" fill="#595959">Vitacare D3</text>
<text transform="translate(275.9,427) rotate(-90)" text-anchor="end" font-size="11.5" fill="#595959">Cardiovex</text>
<text transform="translate(311.5,427) rotate(-90)" text-anchor="end" font-size="11.5" fill="#595959">Gynofolic</text>
<text transform="translate(347.0,427) rotate(-90)" text-anchor="end" font-size="11.5" fill="#595959">Immunova</text>
<text transform="translate(382.6,427) rotate(-90)" text-anchor="end" font-size="11.5" fill="#595959">Osteocare Plus</text>
<text transform="translate(418.2,427) rotate(-90)" text-anchor="end" font-size="11.5" fill="#595959">Respira</text>
<text transform="translate(453.8,427) rotate(-90)" text-anchor="end" font-size="11.5" fill="#595959">Vitacare D3</text>
<text transform="translate(489.4,427) rotate(-90)" text-anchor="end" font-size="11.5" fill="#595959">Cardiovex</text>
<text transform="translate(524.9,427) rotate(-90)" text-anchor="end" font-size="11.5" fill="#595959">Gynofolic</text>
<text transform="translate(560.5,427) rotate(-90)" text-anchor="end" font-size="11.5" fill="#595959">Immunova</text>
<text transform="translate(596.1,427) rotate(-90)" text-anchor="end" font-size="11.5" fill="#595959">Osteocare Plus</text>
<text transform="translate(631.7,427) rotate(-90)" text-anchor="end" font-size="11.5" fill="#595959">Respira</text>
<text transform="translate(667.2,427) rotate(-90)" text-anchor="end" font-size="11.5" fill="#595959">Vitacare D3</text>
<text transform="translate(702.8,427) rotate(-90)" text-anchor="end" font-size="11.5" fill="#595959">Cardiovex</text>
<text transform="translate(738.4,427) rotate(-90)" text-anchor="end" font-size="11.5" fill="#595959">Gynofolic</text>
<text transform="translate(774.0,427) rotate(-90)" text-anchor="end" font-size="11.5" fill="#595959">Immunova</text>
<text transform="translate(809.6,427) rotate(-90)" text-anchor="end" font-size="11.5" fill="#595959">Osteocare Plus</text>
<text transform="translate(845.1,427) rotate(-90)" text-anchor="end" font-size="11.5" fill="#595959">Respira</text>
<text transform="translate(880.7,427) rotate(-90)" text-anchor="end" font-size="11.5" fill="#595959">Vitacare D3</text>
<text transform="translate(916.3,427) rotate(-90)" text-anchor="end" font-size="11.5" fill="#595959">Cardiovex</text>
<text transform="translate(951.9,427) rotate(-90)" text-anchor="end" font-size="11.5" fill="#595959">Gynofolic</text>
<text transform="translate(987.5,427) rotate(-90)" text-anchor="end" font-size="11.5" fill="#595959">Immunova</text>
<text transform="translate(1023.0,427) rotate(-90)" text-anchor="end" font-size="11.5" fill="#595959">Osteocare Plus</text>
<text transform="translate(1058.6,427) rotate(-90)" text-anchor="end" font-size="11.5" fill="#595959">Respira</text>
<text transform="translate(1094.2,427) rotate(-90)" text-anchor="end" font-size="11.5" fill="#595959">Vitacare D3</text>
<text transform="translate(1129.8,427) rotate(-90)" text-anchor="end" font-size="11.5" fill="#595959">Cardiovex</text>
<text transform="translate(1165.4,427) rotate(-90)" text-anchor="end" font-size="11.5" fill="#595959">Gynofolic</text>
<text transform="translate(1200.9,427) rotate(-90)" text-anchor="end" font-size="11.5" fill="#595959">Immunova</text>
<text transform="translate(1236.5,427) rotate(-90)" text-anchor="end" font-size="11.5" fill="#595959">Osteocare Plus</text>
<text transform="translate(1272.1,427) rotate(-90)" text-anchor="end" font-size="11.5" fill="#595959">Respira</text>
<text transform="translate(1307.7,427) rotate(-90)" text-anchor="end" font-size="11.5" fill="#595959">Vitacare D3</text>
<text x="147.1" y="526.2" text-anchor="middle" font-size="11.5" fill="#595959">Ahmed Shaker</text>
<text x="360.6" y="526.2" text-anchor="middle" font-size="11.5" fill="#595959">Mahmoud Zaki</text>
<text x="574.0" y="526.2" text-anchor="middle" font-size="11.5" fill="#595959">Wael Saad</text>
<text x="787.5" y="526.2" text-anchor="middle" font-size="11.5" fill="#595959">Ahmed Fathy</text>
<text x="1001.0" y="526.2" text-anchor="middle" font-size="11.5" fill="#595959">Mohamed Adel</text>
<text x="1214.5" y="526.2" text-anchor="middle" font-size="11.5" fill="#595959">Mostafa Samy</text>
<text x="147.1" y="550.2" text-anchor="middle" font-size="11.5" fill="#595959">Alexandria</text>
<text x="360.6" y="550.2" text-anchor="middle" font-size="11.5" fill="#595959">Canal</text>
<text x="574.0" y="550.2" text-anchor="middle" font-size="11.5" fill="#595959">Delta</text>
<text x="894.3" y="550.2" text-anchor="middle" font-size="11.5" fill="#595959">Greater Cairo</text>
<text x="1214.5" y="550.2" text-anchor="middle" font-size="11.5" fill="#595959">Upper Egypt</text>
<rect x="1344" y="236.20" width="7" height="7" fill="#5B9BD5"/>
<text x="1353.5" y="242.80" font-size="11" fill="#595959">Jan</text>
<rect x="1344" y="260.05" width="7" height="7" fill="#ED7D31"/>
<text x="1353.5" y="266.65" font-size="11" fill="#595959">Feb</text>
<rect x="1344" y="283.90" width="7" height="7" fill="#A5A5A5"/>
<text x="1353.5" y="290.50" font-size="11" fill="#595959">Mar</text>
<rect x="1344" y="307.75" width="7" height="7" fill="#FFC000"/>
<text x="1353.5" y="314.35" font-size="11" fill="#595959">Apr</text>
<rect x="1344" y="331.60" width="7" height="7" fill="#4472C4"/>
<text x="1353.5" y="338.20" font-size="11" fill="#595959">May</text>
<rect x="1344" y="355.45" width="7" height="7" fill="#70AD47"/>
<text x="1353.5" y="362.05" font-size="11" fill="#595959">Jun</text>
<rect x="1344" y="379.30" width="7" height="7" fill="#255E91"/>
<text x="1353.5" y="385.90" font-size="11" fill="#595959">Jul</text>
<rect x="1344" y="403.15" width="7" height="7" fill="#9E480E"/>
<text x="1353.5" y="409.75" font-size="11" fill="#595959">Aug</text>
<rect x="1344" y="427.00" width="7" height="7" fill="#636363"/>
<text x="1353.5" y="433.60" font-size="11" fill="#595959">Sep</text>
<rect x="1344" y="450.85" width="7" height="7" fill="#997300"/>
<text x="1353.5" y="457.45" font-size="11" fill="#595959">Oct</text>
<rect x="1344" y="474.70" width="7" height="7" fill="#264478"/>
<text x="1353.5" y="481.30" font-size="11" fill="#595959">Nov</text>
<rect x="1344" y="498.55" width="7" height="7" fill="#43682B"/>
<text x="1353.5" y="505.15" font-size="11" fill="#595959">Dec</text>
</svg>
<div class="box" style="left:1415px;top:10px;width:417.2px;height:159.5px"></div>
<div class="stitle" style="left:1425px;top:15.6px;font-size:15px">Month</div>
<div class="uline" style="left:1425px;top:37.6px;width:399px"></div>
<div class="btn" style="left:1424px;top:43px;width:187px;height:25.2px;font-size:14px;line-height:25.2px;padding-left:10.3px;padding-top:1.2px">May</div>
<div class="btn" style="left:1424px;top:72.2px;width:187px;height:25.2px;font-size:14px;line-height:25.2px;padding-left:10.3px;padding-top:1.2px">Jul</div>
<div class="btn" style="left:1424px;top:101.4px;width:187px;height:25.2px;font-size:14px;line-height:25.2px;padding-left:10.3px;padding-top:1.2px">Sep</div>
<div class="btn" style="left:1424px;top:130.6px;width:187px;height:25.2px;font-size:14px;line-height:25.2px;padding-left:10.3px;padding-top:1.2px">Nov</div>
<div class="btn" style="left:1614px;top:43px;width:187px;height:25.2px;font-size:14px;line-height:25.2px;padding-left:10.3px;padding-top:1.2px">Jun</div>
<div class="btn" style="left:1614px;top:72.2px;width:187px;height:25.2px;font-size:14px;line-height:25.2px;padding-left:10.3px;padding-top:1.2px">Aug</div>
<div class="btn" style="left:1614px;top:101.4px;width:187px;height:25.2px;font-size:14px;line-height:25.2px;padding-left:10.3px;padding-top:1.2px">Oct</div>
<div class="btn" style="left:1614px;top:130.6px;width:187px;height:25.2px;font-size:14px;line-height:25.2px;padding-left:10.3px;padding-top:1.2px">Dec</div>
<div style="position:absolute;left:1805px;top:43px;width:19px;height:120px;background:#F0F0F0"></div>
<div style="position:absolute;left:1813.3px;top:90px;width:1.5px;height:52px;background:#858585"></div>
<div class="box" style="left:1416px;top:176px;width:203px;height:200px"></div>
<div class="stitle" style="left:1426.3px;top:183.2px;font-size:14.5px">District Manager</div>
<div class="uline" style="left:1426px;top:204.3px;width:185px"></div>
<div class="btn" style="left:1426px;top:209.4px;width:185.7px;height:25px;font-size:14px;line-height:25px;padding-left:10.3px;padding-top:1.2px">Ahmed Fathy</div>
<div class="btn" style="left:1426px;top:238.3px;width:185.7px;height:25px;font-size:14px;line-height:25px;padding-left:10.3px;padding-top:1.2px">Ahmed Shaker</div>
<div class="btn" style="left:1426px;top:267.2px;width:185.7px;height:25px;font-size:14px;line-height:25px;padding-left:10.3px;padding-top:1.2px">Mahmoud Zaki</div>
<div class="btn" style="left:1426px;top:296.2px;width:185.7px;height:25px;font-size:14px;line-height:25px;padding-left:10.3px;padding-top:1.2px">Mohamed Adel</div>
<div class="box" style="left:1630px;top:175.6px;width:202.7px;height:200px"></div>
<div class="stitle" style="left:1640.6px;top:182.2px;font-size:14.5px">Product Name</div>
<div class="uline" style="left:1640px;top:202.5px;width:184.7px"></div>
<div class="btn" style="left:1639px;top:209.4px;width:185.7px;height:25px;font-size:14px;line-height:25px;padding-left:10.3px;padding-top:1.2px">Cardiovex</div>
<div class="btn" style="left:1639px;top:238.3px;width:185.7px;height:25px;font-size:14px;line-height:25px;padding-left:10.3px;padding-top:1.2px">Gynofolic</div>
<div class="btn" style="left:1639px;top:267.2px;width:185.7px;height:25px;font-size:14px;line-height:25px;padding-left:10.3px;padding-top:1.2px">Immunova</div>
<div class="btn" style="left:1639px;top:296.2px;width:185.7px;height:25px;font-size:14px;line-height:25px;padding-left:10.3px;padding-top:1.2px">Osteocare Plus</div>
<svg style="position:absolute;left:0;top:0" width="1856" height="639"><g transform="translate(1770,16)" fill="none" stroke="#404040" stroke-width="1.3" stroke-linecap="square">
<path d="M0.4,3.1 L2.7,5.0 L7.5,1.1"/><path d="M0.4,8.5 L2.7,10.4 L7.5,6.5"/><path d="M0.4,13.9 L2.7,15.8 L7.5,11.9"/>
<path d="M9.6,3.9 H17.6" stroke-width="1.4"/><path d="M9.6,9.5 H17.6" stroke-width="1.4"/><path d="M9.6,15.0 H17.6" stroke-width="1.4"/></g><g transform="translate(1803,16)">
<path d="M0.4,0.4 H17.6 V3.8 L12.4,8.6 L10,10.5 L10,17.3 L7.1,18 V10 L0.4,3.8 Z" fill="#F3F3F5" stroke="none"/>
<path d="M0.4,0.4 H17.6 V3.8 L12.2,8.7 M0.4,0.4 V3.8 L7.1,10 V18" fill="none" stroke="#7F7F7F" stroke-width="1.3"/>
<path d="M10.4,10.6 L17.6,17.3 M17.6,10.6 L10.4,17.3" stroke="#A7ABBB" stroke-width="1.1"/></g><g transform="translate(1557,181.5)" fill="none" stroke="#404040" stroke-width="1.3" stroke-linecap="square">
<path d="M0.4,3.1 L2.7,5.0 L7.5,1.1"/><path d="M0.4,8.5 L2.7,10.4 L7.5,6.5"/><path d="M0.4,13.9 L2.7,15.8 L7.5,11.9"/>
<path d="M9.6,3.9 H17.6" stroke-width="1.4"/><path d="M9.6,9.5 H17.6" stroke-width="1.4"/><path d="M9.6,15.0 H17.6" stroke-width="1.4"/></g><g transform="translate(1590,181.5)">
<path d="M0.4,0.4 H17.6 V3.8 L12.4,8.6 L10,10.5 L10,17.3 L7.1,18 V10 L0.4,3.8 Z" fill="#F3F3F5" stroke="none"/>
<path d="M0.4,0.4 H17.6 V3.8 L12.2,8.7 M0.4,0.4 V3.8 L7.1,10 V18" fill="none" stroke="#7F7F7F" stroke-width="1.3"/>
<path d="M10.4,10.6 L17.6,17.3 M17.6,10.6 L10.4,17.3" stroke="#A7ABBB" stroke-width="1.1"/></g><g transform="translate(1771,180.5)" fill="none" stroke="#404040" stroke-width="1.3" stroke-linecap="square">
<path d="M0.4,3.1 L2.7,5.0 L7.5,1.1"/><path d="M0.4,8.5 L2.7,10.4 L7.5,6.5"/><path d="M0.4,13.9 L2.7,15.8 L7.5,11.9"/>
<path d="M9.6,3.9 H17.6" stroke-width="1.4"/><path d="M9.6,9.5 H17.6" stroke-width="1.4"/><path d="M9.6,15.0 H17.6" stroke-width="1.4"/></g><g transform="translate(1804,180.5)">
<path d="M0.4,0.4 H17.6 V3.8 L12.4,8.6 L10,10.5 L10,17.3 L7.1,18 V10 L0.4,3.8 Z" fill="#F3F3F5" stroke="none"/>
<path d="M0.4,0.4 H17.6 V3.8 L12.2,8.7 M0.4,0.4 V3.8 L7.1,10 V18" fill="none" stroke="#7F7F7F" stroke-width="1.3"/>
<path d="M10.4,10.6 L17.6,17.3 M17.6,10.6 L10.4,17.3" stroke="#A7ABBB" stroke-width="1.1"/></g></svg>
<div style="position:absolute;left:1411px;top:304px;width:460px;height:340px;border-top-left-radius:8px;box-shadow:-2px 0 7px rgba(40,40,60,0.28)"></div>
<div style="position:absolute;left:1411px;top:304px;width:445px;height:19.4px;background:#213562;border-top-left-radius:8px"></div>
<div style="position:absolute;left:1411px;top:323.3px;width:445px;height:1.8px;background:#3D7A56"></div>
<div style="position:absolute;left:1411px;top:325.1px;width:445px;height:203.9px;background:#DBE0F2"></div>
<svg style="position:absolute;left:0;top:0" width="1856" height="639">
<text x="1730.5" y="318.4" text-anchor="middle" font-weight="bold" font-size="10.5" fill="#FFFFFF" textLength="121" lengthAdjust="spacingAndGlyphs">District Manager Analysis</text>
<text x="1643.7" y="366.3" text-anchor="middle" font-weight="bold" font-size="8" fill="#595959" textLength="48.7" lengthAdjust="spacingAndGlyphs">Sales (Units)</text>
<text x="1419.5" y="443.0" text-anchor="end" font-size="4.2" fill="#595959">100</text>
<text x="1419.5" y="434.5" text-anchor="end" font-size="4.2" fill="#595959">200</text>
<text x="1419.5" y="426.1" text-anchor="end" font-size="4.2" fill="#595959">300</text>
<text x="1419.5" y="417.6" text-anchor="end" font-size="4.2" fill="#595959">400</text>
<text x="1419.5" y="409.2" text-anchor="end" font-size="4.2" fill="#595959">500</text>
<text x="1419.5" y="400.7" text-anchor="end" font-size="4.2" fill="#595959">600</text>
<text x="1419.5" y="392.3" text-anchor="end" font-size="4.2" fill="#595959">700</text>
<text x="1419.5" y="383.8" text-anchor="end" font-size="4.2" fill="#595959">800</text>
<text x="1419.5" y="375.4" text-anchor="end" font-size="4.2" fill="#595959">900</text>
<rect x="1424.90" y="401.0" width="0.92" height="48.6" fill="#5B9BD5" shape-rendering="crispEdges"/>
<rect x="1425.82" y="403.6" width="0.92" height="46.0" fill="#ED7D31" shape-rendering="crispEdges"/>
<rect x="1426.73" y="396.0" width="0.92" height="53.6" fill="#A5A5A5" shape-rendering="crispEdges"/>
<rect x="1427.65" y="404.8" width="0.92" height="44.8" fill="#FFC000" shape-rendering="crispEdges"/>
<rect x="1428.57" y="397.8" width="0.92" height="51.8" fill="#4472C4" shape-rendering="crispEdges"/>
<rect x="1429.49" y="400.3" width="0.92" height="49.3" fill="#70AD47" shape-rendering="crispEdges"/>
<rect x="1430.40" y="405.0" width="0.92" height="44.6" fill="#255E91" shape-rendering="crispEdges"/>
<rect x="1431.32" y="398.2" width="0.92" height="51.4" fill="#9E480E" shape-rendering="crispEdges"/>
<rect x="1432.24" y="405.3" width="0.92" height="44.3" fill="#636363" shape-rendering="crispEdges"/>
<rect x="1433.15" y="399.3" width="0.92" height="50.3" fill="#997300" shape-rendering="crispEdges"/>
<rect x="1434.07" y="404.8" width="0.92" height="44.8" fill="#264478" shape-rendering="crispEdges"/>
<rect x="1434.99" y="404.5" width="0.92" height="45.1" fill="#43682B" shape-rendering="crispEdges"/>
<rect x="1436.90" y="399.4" width="0.92" height="50.2" fill="#5B9BD5" shape-rendering="crispEdges"/>
<rect x="1437.82" y="393.4" width="0.92" height="56.2" fill="#ED7D31" shape-rendering="crispEdges"/>
<rect x="1438.73" y="404.0" width="0.92" height="45.6" fill="#A5A5A5" shape-rendering="crispEdges"/>
<rect x="1439.65" y="402.5" width="0.92" height="47.1" fill="#FFC000" shape-rendering="crispEdges"/>
<rect x="1440.57" y="396.4" width="0.92" height="53.2" fill="#4472C4" shape-rendering="crispEdges"/>
<rect x="1441.49" y="391.5" width="0.92" height="58.1" fill="#70AD47" shape-rendering="crispEdges"/>
<rect x="1442.40" y="397.1" width="0.92" height="52.5" fill="#255E91" shape-rendering="crispEdges"/>
<rect x="1443.32" y="399.9" width="0.92" height="49.7" fill="#9E480E" shape-rendering="crispEdges"/>
<rect x="1444.24" y="391.1" width="0.92" height="58.5" fill="#636363" shape-rendering="crispEdges"/>
<rect x="1445.15" y="405.2" width="0.92" height="44.4" fill="#997300" shape-rendering="crispEdges"/>
<rect x="1446.07" y="392.9" width="0.92" height="56.7" fill="#264478" shape-rendering="crispEdges"/>
<rect x="1446.99" y="401.5" width="0.92" height="48.1" fill="#43682B" shape-rendering="crispEdges"/>
<rect x="1448.90" y="403.7" width="0.92" height="45.9" fill="#5B9BD5" shape-rendering="crispEdges"/>
<rect x="1449.82" y="404.1" width="0.92" height="45.5" fill="#ED7D31" shape-rendering="crispEdges"/>
<rect x="1450.73" y="401.2" width="0.92" height="48.4" fill="#A5A5A5" shape-rendering="crispEdges"/>
<rect x="1451.65" y="393.5" width="0.92" height="56.1" fill="#FFC000" shape-rendering="crispEdges"/>
<rect x="1452.57" y="403.1" width="0.92" height="46.5" fill="#4472C4" shape-rendering="crispEdges"/>
<rect x="1453.49" y="397.1" width="0.92" height="52.5" fill="#70AD47" shape-rendering="crispEdges"/>
<rect x="1454.40" y="396.2" width="0.92" height="53.4" fill="#255E91" shape-rendering="crispEdges"/>
<rect x="1455.32" y="400.2" width="0.92" height="49.4" fill="#9E480E" shape-rendering="crispEdges"/>
<rect x="1456.24" y="397.6" width="0.92" height="52.0" fill="#636363" shape-rendering="crispEdges"/>
<rect x="1457.15" y="404.9" width="0.92" height="44.7" fill="#997300" shape-rendering="crispEdges"/>
<rect x="1458.07" y="405.0" width="0.92" height="44.6" fill="#264478" shape-rendering="crispEdges"/>
<rect x="1458.99" y="402.8" width="0.92" height="46.8" fill="#43682B" shape-rendering="crispEdges"/>
<rect x="1460.90" y="395.6" width="0.92" height="54.0" fill="#5B9BD5" shape-rendering="crispEdges"/>
<rect x="1461.82" y="399.4" width="0.92" height="50.2" fill="#ED7D31" shape-rendering="crispEdges"/>
<rect x="1462.73" y="401.1" width="0.92" height="48.5" fill="#A5A5A5" shape-rendering="crispEdges"/>
<rect x="1463.65" y="397.0" width="0.92" height="52.6" fill="#FFC000" shape-rendering="crispEdges"/>
<rect x="1464.57" y="399.0" width="0.92" height="50.6" fill="#4472C4" shape-rendering="crispEdges"/>
<rect x="1465.49" y="401.3" width="0.92" height="48.3" fill="#70AD47" shape-rendering="crispEdges"/>
<rect x="1466.40" y="393.8" width="0.92" height="55.8" fill="#255E91" shape-rendering="crispEdges"/>
<rect x="1467.32" y="395.3" width="0.92" height="54.3" fill="#9E480E" shape-rendering="crispEdges"/>
<rect x="1468.24" y="402.2" width="0.92" height="47.4" fill="#636363" shape-rendering="crispEdges"/>
<rect x="1469.15" y="397.2" width="0.92" height="52.4" fill="#997300" shape-rendering="crispEdges"/>
<rect x="1470.07" y="397.9" width="0.92" height="51.7" fill="#264478" shape-rendering="crispEdges"/>
<rect x="1470.99" y="392.6" width="0.92" height="57.0" fill="#43682B" shape-rendering="crispEdges"/>
<rect x="1472.90" y="394.8" width="0.92" height="54.8" fill="#5B9BD5" shape-rendering="crispEdges"/>
<rect x="1473.82" y="401.5" width="0.92" height="48.1" fill="#ED7D31" shape-rendering="crispEdges"/>
<rect x="1474.73" y="391.0" width="0.92" height="58.6" fill="#A5A5A5" shape-rendering="crispEdges"/>
<rect x="1475.65" y="404.1" width="0.92" height="45.5" fill="#FFC000" shape-rendering="crispEdges"/>
<rect x="1476.57" y="399.5" width="0.92" height="50.1" fill="#4472C4" shape-rendering="crispEdges"/>
<rect x="1477.49" y="394.4" width="0.92" height="55.2" fill="#70AD47" shape-rendering="crispEdges"/>
<rect x="1478.40" y="403.6" width="0.92" height="46.0" fill="#255E91" shape-rendering="crispEdges"/>
<rect x="1479.32" y="398.5" width="0.92" height="51.1" fill="#9E480E" shape-rendering="crispEdges"/>
<rect x="1480.24" y="405.3" width="0.92" height="44.3" fill="#636363" shape-rendering="crispEdges"/>
<rect x="1481.15" y="395.8" width="0.92" height="53.8" fill="#997300" shape-rendering="crispEdges"/>
<rect x="1482.07" y="394.3" width="0.92" height="55.3" fill="#264478" shape-rendering="crispEdges"/>
<rect x="1482.99" y="397.2" width="0.92" height="52.4" fill="#43682B" shape-rendering="crispEdges"/>
<rect x="1484.90" y="392.6" width="0.92" height="57.0" fill="#5B9BD5" shape-rendering="crispEdges"/>
<rect x="1485.82" y="401.1" width="0.92" height="48.5" fill="#ED7D31" shape-rendering="crispEdges"/>
<rect x="1486.73" y="395.3" width="0.92" height="54.3" fill="#A5A5A5" shape-rendering="crispEdges"/>
<rect x="1487.65" y="396.9" width="0.92" height="52.7" fill="#FFC000" shape-rendering="crispEdges"/>
<rect x="1488.57" y="397.1" width="0.92" height="52.5" fill="#4472C4" shape-rendering="crispEdges"/>
<rect x="1489.49" y="399.0" width="0.92" height="50.6" fill="#70AD47" shape-rendering="crispEdges"/>
<rect x="1490.40" y="393.2" width="0.92" height="56.4" fill="#255E91" shape-rendering="crispEdges"/>
<rect x="1491.32" y="391.6" width="0.92" height="58.0" fill="#9E480E" shape-rendering="crispEdges"/>
<rect x="1492.24" y="398.7" width="0.92" height="50.9" fill="#636363" shape-rendering="crispEdges"/>
<rect x="1493.15" y="395.8" width="0.92" height="53.8" fill="#997300" shape-rendering="crispEdges"/>
<rect x="1494.07" y="404.9" width="0.92" height="44.7" fill="#264478" shape-rendering="crispEdges"/>
<rect x="1494.99" y="395.2" width="0.92" height="54.4" fill="#43682B" shape-rendering="crispEdges"/>
<rect x="1496.90" y="396.1" width="0.92" height="53.5" fill="#5B9BD5" shape-rendering="crispEdges"/>
<rect x="1497.82" y="390.8" width="0.92" height="58.8" fill="#ED7D31" shape-rendering="crispEdges"/>
<rect x="1498.73" y="393.4" width="0.92" height="56.2" fill="#A5A5A5" shape-rendering="crispEdges"/>
<rect x="1499.65" y="401.6" width="0.92" height="48.0" fill="#FFC000" shape-rendering="crispEdges"/>
<rect x="1500.57" y="400.0" width="0.92" height="49.6" fill="#4472C4" shape-rendering="crispEdges"/>
<rect x="1501.49" y="395.7" width="0.92" height="53.9" fill="#70AD47" shape-rendering="crispEdges"/>
<rect x="1502.40" y="405.5" width="0.92" height="44.1" fill="#255E91" shape-rendering="crispEdges"/>
<rect x="1503.32" y="398.9" width="0.92" height="50.7" fill="#9E480E" shape-rendering="crispEdges"/>
<rect x="1504.24" y="403.3" width="0.92" height="46.3" fill="#636363" shape-rendering="crispEdges"/>
<rect x="1505.15" y="404.1" width="0.92" height="45.5" fill="#997300" shape-rendering="crispEdges"/>
<rect x="1506.07" y="405.0" width="0.92" height="44.6" fill="#264478" shape-rendering="crispEdges"/>
<rect x="1506.99" y="394.2" width="0.92" height="55.4" fill="#43682B" shape-rendering="crispEdges"/>
<rect x="1508.90" y="403.9" width="0.92" height="45.7" fill="#5B9BD5" shape-rendering="crispEdges"/>
<rect x="1509.82" y="402.1" width="0.92" height="47.5" fill="#ED7D31" shape-rendering="crispEdges"/>
<rect x="1510.73" y="399.9" width="0.92" height="49.7" fill="#A5A5A5" shape-rendering="crispEdges"/>
<rect x="1511.65" y="392.7" width="0.92" height="56.9" fill="#FFC000" shape-rendering="crispEdges"/>
<rect x="1512.57" y="404.6" width="0.92" height="45.0" fill="#4472C4" shape-rendering="crispEdges"/>
<rect x="1513.49" y="399.1" width="0.92" height="50.5" fill="#70AD47" shape-rendering="crispEdges"/>
<rect x="1514.40" y="397.6" width="0.92" height="52.0" fill="#255E91" shape-rendering="crispEdges"/>
<rect x="1515.32" y="392.5" width="0.92" height="57.1" fill="#9E480E" shape-rendering="crispEdges"/>
<rect x="1516.24" y="393.5" width="0.92" height="56.1" fill="#636363" shape-rendering="crispEdges"/>
<rect x="1517.15" y="392.8" width="0.92" height="56.8" fill="#997300" shape-rendering="crispEdges"/>
<rect x="1518.07" y="401.7" width="0.92" height="47.9" fill="#264478" shape-rendering="crispEdges"/>
<rect x="1518.99" y="399.6" width="0.92" height="50.0" fill="#43682B" shape-rendering="crispEdges"/>
<rect x="1520.90" y="400.4" width="0.92" height="49.2" fill="#5B9BD5" shape-rendering="crispEdges"/>
<rect x="1521.82" y="392.5" width="0.92" height="57.1" fill="#ED7D31" shape-rendering="crispEdges"/>
<rect x="1522.73" y="391.4" width="0.92" height="58.2" fill="#A5A5A5" shape-rendering="crispEdges"/>
<rect x="1523.65" y="403.6" width="0.92" height="46.0" fill="#FFC000" shape-rendering="crispEdges"/>
<rect x="1524.57" y="403.2" width="0.92" height="46.4" fill="#4472C4" shape-rendering="crispEdges"/>
<rect x="1525.49" y="402.4" width="0.92" height="47.2" fill="#70AD47" shape-rendering="crispEdges"/>
<rect x="1526.40" y="402.3" width="0.92" height="47.3" fill="#255E91" shape-rendering="crispEdges"/>
<rect x="1527.32" y="398.5" width="0.92" height="51.1" fill="#9E480E" shape-rendering="crispEdges"/>
<rect x="1528.24" y="396.9" width="0.92" height="52.7" fill="#636363" shape-rendering="crispEdges"/>
<rect x="1529.15" y="401.9" width="0.92" height="47.7" fill="#997300" shape-rendering="crispEdges"/>
<rect x="1530.07" y="405.8" width="0.92" height="43.8" fill="#264478" shape-rendering="crispEdges"/>
<rect x="1530.99" y="399.5" width="0.92" height="50.1" fill="#43682B" shape-rendering="crispEdges"/>
<rect x="1532.90" y="400.3" width="0.92" height="49.3" fill="#5B9BD5" shape-rendering="crispEdges"/>
<rect x="1533.82" y="397.3" width="0.92" height="52.3" fill="#ED7D31" shape-rendering="crispEdges"/>
<rect x="1534.73" y="391.4" width="0.92" height="58.2" fill="#A5A5A5" shape-rendering="crispEdges"/>
<rect x="1535.65" y="395.4" width="0.92" height="54.2" fill="#FFC000" shape-rendering="crispEdges"/>
<rect x="1536.57" y="398.1" width="0.92" height="51.5" fill="#4472C4" shape-rendering="crispEdges"/>
<rect x="1537.49" y="396.5" width="0.92" height="53.1" fill="#70AD47" shape-rendering="crispEdges"/>
<rect x="1538.40" y="395.6" width="0.92" height="54.0" fill="#255E91" shape-rendering="crispEdges"/>
<rect x="1539.32" y="405.1" width="0.92" height="44.5" fill="#9E480E" shape-rendering="crispEdges"/>
<rect x="1540.24" y="392.3" width="0.92" height="57.3" fill="#636363" shape-rendering="crispEdges"/>
<rect x="1541.15" y="394.1" width="0.92" height="55.5" fill="#997300" shape-rendering="crispEdges"/>
<rect x="1542.07" y="392.6" width="0.92" height="57.0" fill="#264478" shape-rendering="crispEdges"/>
<rect x="1542.99" y="393.8" width="0.92" height="55.8" fill="#43682B" shape-rendering="crispEdges"/>
<rect x="1544.90" y="399.9" width="0.92" height="49.7" fill="#5B9BD5" shape-rendering="crispEdges"/>
<rect x="1545.82" y="399.8" width="0.92" height="49.8" fill="#ED7D31" shape-rendering="crispEdges"/>
<rect x="1546.73" y="404.3" width="0.92" height="45.3" fill="#A5A5A5" shape-rendering="crispEdges"/>
<rect x="1547.65" y="396.3" width="0.92" height="53.3" fill="#FFC000" shape-rendering="crispEdges"/>
<rect x="1548.57" y="404.9" width="0.92" height="44.7" fill="#4472C4" shape-rendering="crispEdges"/>
<rect x="1549.49" y="404.8" width="0.92" height="44.8" fill="#70AD47" shape-rendering="crispEdges"/>
<rect x="1550.40" y="402.7" width="0.92" height="46.9" fill="#255E91" shape-rendering="crispEdges"/>
<rect x="1551.32" y="403.4" width="0.92" height="46.2" fill="#9E480E" shape-rendering="crispEdges"/>
<rect x="1552.24" y="400.7" width="0.92" height="48.9" fill="#636363" shape-rendering="crispEdges"/>
<rect x="1553.15" y="405.1" width="0.92" height="44.5" fill="#997300" shape-rendering="crispEdges"/>
<rect x="1554.07" y="405.9" width="0.92" height="43.7" fill="#264478" shape-rendering="crispEdges"/>
<rect x="1554.99" y="403.6" width="0.92" height="46.0" fill="#43682B" shape-rendering="crispEdges"/>
<rect x="1556.90" y="404.3" width="0.92" height="45.3" fill="#5B9BD5" shape-rendering="crispEdges"/>
<rect x="1557.82" y="400.4" width="0.92" height="49.2" fill="#ED7D31" shape-rendering="crispEdges"/>
<rect x="1558.73" y="405.5" width="0.92" height="44.1" fill="#A5A5A5" shape-rendering="crispEdges"/>
<rect x="1559.65" y="392.6" width="0.92" height="57.0" fill="#FFC000" shape-rendering="crispEdges"/>
<rect x="1560.57" y="396.6" width="0.92" height="53.0" fill="#4472C4" shape-rendering="crispEdges"/>
<rect x="1561.49" y="403.6" width="0.92" height="46.0" fill="#70AD47" shape-rendering="crispEdges"/>
<rect x="1562.40" y="402.0" width="0.92" height="47.6" fill="#255E91" shape-rendering="crispEdges"/>
<rect x="1563.32" y="400.6" width="0.92" height="49.0" fill="#9E480E" shape-rendering="crispEdges"/>
<rect x="1564.24" y="400.4" width="0.92" height="49.2" fill="#636363" shape-rendering="crispEdges"/>
<rect x="1565.15" y="404.0" width="0.92" height="45.6" fill="#997300" shape-rendering="crispEdges"/>
<rect x="1566.07" y="393.0" width="0.92" height="56.6" fill="#264478" shape-rendering="crispEdges"/>
<rect x="1566.99" y="390.8" width="0.92" height="58.8" fill="#43682B" shape-rendering="crispEdges"/>
<rect x="1568.90" y="398.8" width="0.92" height="50.8" fill="#5B9BD5" shape-rendering="crispEdges"/>
<rect x="1569.82" y="398.5" width="0.92" height="51.1" fill="#ED7D31" shape-rendering="crispEdges"/>
<rect x="1570.73" y="404.6" width="0.92" height="45.0" fill="#A5A5A5" shape-rendering="crispEdges"/>
<rect x="1571.65" y="404.3" width="0.92" height="45.3" fill="#FFC000" shape-rendering="crispEdges"/>
<rect x="1572.57" y="400.7" width="0.92" height="48.9" fill="#4472C4" shape-rendering="crispEdges"/>
<rect x="1573.49" y="401.9" width="0.92" height="47.7" fill="#70AD47" shape-rendering="crispEdges"/>
<rect x="1574.40" y="393.3" width="0.92" height="56.3" fill="#255E91" shape-rendering="crispEdges"/>
<rect x="1575.32" y="403.4" width="0.92" height="46.2" fill="#9E480E" shape-rendering="crispEdges"/>
<rect x="1576.24" y="405.5" width="0.92" height="44.1" fill="#636363" shape-rendering="crispEdges"/>
<rect x="1577.15" y="391.5" width="0.92" height="58.1" fill="#997300" shape-rendering="crispEdges"/>
<rect x="1578.07" y="397.9" width="0.92" height="51.7" fill="#264478" shape-rendering="crispEdges"/>
<rect x="1578.99" y="403.6" width="0.92" height="46.0" fill="#43682B" shape-rendering="crispEdges"/>
<rect x="1580.90" y="397.6" width="0.92" height="52.0" fill="#5B9BD5" shape-rendering="crispEdges"/>
<rect x="1581.82" y="405.5" width="0.92" height="44.1" fill="#ED7D31" shape-rendering="crispEdges"/>
<rect x="1582.73" y="397.9" width="0.92" height="51.7" fill="#A5A5A5" shape-rendering="crispEdges"/>
<rect x="1583.65" y="391.1" width="0.92" height="58.5" fill="#FFC000" shape-rendering="crispEdges"/>
<rect x="1584.57" y="392.8" width="0.92" height="56.8" fill="#4472C4" shape-rendering="crispEdges"/>
<rect x="1585.49" y="395.3" width="0.92" height="54.3" fill="#70AD47" shape-rendering="crispEdges"/>
<rect x="1586.40" y="401.9" width="0.92" height="47.7" fill="#255E91" shape-rendering="crispEdges"/>
<rect x="1587.32" y="400.3" width="0.92" height="49.3" fill="#9E480E" shape-rendering="crispEdges"/>
<rect x="1588.24" y="403.3" width="0.92" height="46.3" fill="#636363" shape-rendering="crispEdges"/>
<rect x="1589.15" y="394.2" width="0.92" height="55.4" fill="#997300" shape-rendering="crispEdges"/>
<rect x="1590.07" y="397.8" width="0.92" height="51.8" fill="#264478" shape-rendering="crispEdges"/>
<rect x="1590.99" y="394.1" width="0.92" height="55.5" fill="#43682B" shape-rendering="crispEdges"/>
<rect x="1592.90" y="400.9" width="0.92" height="48.7" fill="#5B9BD5" shape-rendering="crispEdges"/>
<rect x="1593.82" y="402.5" width="0.92" height="47.1" fill="#ED7D31" shape-rendering="crispEdges"/>
<rect x="1594.73" y="393.6" width="0.92" height="56.0" fill="#A5A5A5" shape-rendering="crispEdges"/>
<rect x="1595.65" y="391.0" width="0.92" height="58.6" fill="#FFC000" shape-rendering="crispEdges"/>
<rect x="1596.57" y="393.0" width="0.92" height="56.6" fill="#4472C4" shape-rendering="crispEdges"/>
<rect x="1597.49" y="393.7" width="0.92" height="55.9" fill="#70AD47" shape-rendering="crispEdges"/>
<rect x="1598.40" y="393.5" width="0.92" height="56.1" fill="#255E91" shape-rendering="crispEdges"/>
<rect x="1599.32" y="394.7" width="0.92" height="54.9" fill="#9E480E" shape-rendering="crispEdges"/>
<rect x="1600.24" y="402.4" width="0.92" height="47.2" fill="#636363" shape-rendering="crispEdges"/>
<rect x="1601.15" y="398.0" width="0.92" height="51.6" fill="#997300" shape-rendering="crispEdges"/>
<rect x="1602.07" y="400.5" width="0.92" height="49.1" fill="#264478" shape-rendering="crispEdges"/>
<rect x="1602.99" y="405.4" width="0.92" height="44.2" fill="#43682B" shape-rendering="crispEdges"/>
<rect x="1604.90" y="405.4" width="0.92" height="44.2" fill="#5B9BD5" shape-rendering="crispEdges"/>
<rect x="1605.82" y="401.6" width="0.92" height="48.0" fill="#ED7D31" shape-rendering="crispEdges"/>
<rect x="1606.73" y="401.9" width="0.92" height="47.7" fill="#A5A5A5" shape-rendering="crispEdges"/>
<rect x="1607.65" y="395.4" width="0.92" height="54.2" fill="#FFC000" shape-rendering="crispEdges"/>
<rect x="1608.57" y="391.4" width="0.92" height="58.2" fill="#4472C4" shape-rendering="crispEdges"/>
<rect x="1609.49" y="399.1" width="0.92" height="50.5" fill="#70AD47" shape-rendering="crispEdges"/>
<rect x="1610.40" y="391.7" width="0.92" height="57.9" fill="#255E91" shape-rendering="crispEdges"/>
<rect x="1611.32" y="390.9" width="0.92" height="58.7" fill="#9E480E" shape-rendering="crispEdges"/>
<rect x="1612.24" y="391.4" width="0.92" height="58.2" fill="#636363" shape-rendering="crispEdges"/>
<rect x="1613.15" y="400.3" width="0.92" height="49.3" fill="#997300" shape-rendering="crispEdges"/>
<rect x="1614.07" y="402.5" width="0.92" height="47.1" fill="#264478" shape-rendering="crispEdges"/>
<rect x="1614.99" y="402.4" width="0.92" height="47.2" fill="#43682B" shape-rendering="crispEdges"/>
<rect x="1616.90" y="402.9" width="0.92" height="46.7" fill="#5B9BD5" shape-rendering="crispEdges"/>
<rect x="1617.82" y="402.8" width="0.92" height="46.8" fill="#ED7D31" shape-rendering="crispEdges"/>
<rect x="1618.73" y="396.4" width="0.92" height="53.2" fill="#A5A5A5" shape-rendering="crispEdges"/>
<rect x="1619.65" y="392.2" width="0.92" height="57.4" fill="#FFC000" shape-rendering="crispEdges"/>
<rect x="1620.57" y="393.1" width="0.92" height="56.5" fill="#4472C4" shape-rendering="crispEdges"/>
<rect x="1621.49" y="398.6" width="0.92" height="51.0" fill="#70AD47" shape-rendering="crispEdges"/>
<rect x="1622.40" y="396.0" width="0.92" height="53.6" fill="#255E91" shape-rendering="crispEdges"/>
<rect x="1623.32" y="393.8" width="0.92" height="55.8" fill="#9E480E" shape-rendering="crispEdges"/>
<rect x="1624.24" y="404.6" width="0.92" height="45.0" fill="#636363" shape-rendering="crispEdges"/>
<rect x="1625.15" y="395.9" width="0.92" height="53.7" fill="#997300" shape-rendering="crispEdges"/>
<rect x="1626.07" y="392.1" width="0.92" height="57.5" fill="#264478" shape-rendering="crispEdges"/>
<rect x="1626.99" y="394.0" width="0.92" height="55.6" fill="#43682B" shape-rendering="crispEdges"/>
<rect x="1628.90" y="394.5" width="0.92" height="55.1" fill="#5B9BD5" shape-rendering="crispEdges"/>
<rect x="1629.82" y="398.6" width="0.92" height="51.0" fill="#ED7D31" shape-rendering="crispEdges"/>
<rect x="1630.73" y="403.2" width="0.92" height="46.4" fill="#A5A5A5" shape-rendering="crispEdges"/>
<rect x="1631.65" y="393.9" width="0.92" height="55.7" fill="#FFC000" shape-rendering="crispEdges"/>
<rect x="1632.57" y="400.8" width="0.92" height="48.8" fill="#4472C4" shape-rendering="crispEdges"/>
<rect x="1633.49" y="393.7" width="0.92" height="55.9" fill="#70AD47" shape-rendering="crispEdges"/>
<rect x="1634.40" y="391.2" width="0.92" height="58.4" fill="#255E91" shape-rendering="crispEdges"/>
<rect x="1635.32" y="399.9" width="0.92" height="49.7" fill="#9E480E" shape-rendering="crispEdges"/>
<rect x="1636.24" y="399.8" width="0.92" height="49.8" fill="#636363" shape-rendering="crispEdges"/>
<rect x="1637.15" y="391.5" width="0.92" height="58.1" fill="#997300" shape-rendering="crispEdges"/>
<rect x="1638.07" y="394.9" width="0.92" height="54.7" fill="#264478" shape-rendering="crispEdges"/>
<rect x="1638.99" y="403.3" width="0.92" height="46.3" fill="#43682B" shape-rendering="crispEdges"/>
<rect x="1640.90" y="403.9" width="0.92" height="45.7" fill="#5B9BD5" shape-rendering="crispEdges"/>
<rect x="1641.82" y="403.6" width="0.92" height="46.0" fill="#ED7D31" shape-rendering="crispEdges"/>
<rect x="1642.73" y="392.2" width="0.92" height="57.4" fill="#A5A5A5" shape-rendering="crispEdges"/>
<rect x="1643.65" y="393.7" width="0.92" height="55.9" fill="#FFC000" shape-rendering="crispEdges"/>
<rect x="1644.57" y="403.7" width="0.92" height="45.9" fill="#4472C4" shape-rendering="crispEdges"/>
<rect x="1645.49" y="393.4" width="0.92" height="56.2" fill="#70AD47" shape-rendering="crispEdges"/>
<rect x="1646.40" y="391.0" width="0.92" height="58.6" fill="#255E91" shape-rendering="crispEdges"/>
<rect x="1647.32" y="395.9" width="0.92" height="53.7" fill="#9E480E" shape-rendering="crispEdges"/>
<rect x="1648.24" y="400.6" width="0.92" height="49.0" fill="#636363" shape-rendering="crispEdges"/>
<rect x="1649.15" y="397.6" width="0.92" height="52.0" fill="#997300" shape-rendering="crispEdges"/>
<rect x="1650.07" y="403.9" width="0.92" height="45.7" fill="#264478" shape-rendering="crispEdges"/>
<rect x="1650.99" y="405.7" width="0.92" height="43.9" fill="#43682B" shape-rendering="crispEdges"/>
<rect x="1652.90" y="391.2" width="0.92" height="58.4" fill="#5B9BD5" shape-rendering="crispEdges"/>
<rect x="1653.82" y="396.0" width="0.92" height="53.6" fill="#ED7D31" shape-rendering="crispEdges"/>
<rect x="1654.73" y="397.9" width="0.92" height="51.7" fill="#A5A5A5" shape-rendering="crispEdges"/>
<rect x="1655.65" y="391.7" width="0.92" height="57.9" fill="#FFC000" shape-rendering="crispEdges"/>
<rect x="1656.57" y="399.3" width="0.92" height="50.3" fill="#4472C4" shape-rendering="crispEdges"/>
<rect x="1657.49" y="392.7" width="0.92" height="56.9" fill="#70AD47" shape-rendering="crispEdges"/>
<rect x="1658.40" y="393.4" width="0.92" height="56.2" fill="#255E91" shape-rendering="crispEdges"/>
<rect x="1659.32" y="402.7" width="0.92" height="46.9" fill="#9E480E" shape-rendering="crispEdges"/>
<rect x="1660.24" y="402.1" width="0.92" height="47.5" fill="#636363" shape-rendering="crispEdges"/>
<rect x="1661.15" y="401.4" width="0.92" height="48.2" fill="#997300" shape-rendering="crispEdges"/>
<rect x="1662.07" y="402.2" width="0.92" height="47.4" fill="#264478" shape-rendering="crispEdges"/>
<rect x="1662.99" y="397.0" width="0.92" height="52.6" fill="#43682B" shape-rendering="crispEdges"/>
<rect x="1664.90" y="401.9" width="0.92" height="47.7" fill="#5B9BD5" shape-rendering="crispEdges"/>
<rect x="1665.82" y="399.5" width="0.92" height="50.1" fill="#ED7D31" shape-rendering="crispEdges"/>
<rect x="1666.73" y="403.9" width="0.92" height="45.7" fill="#A5A5A5" shape-rendering="crispEdges"/>
<rect x="1667.65" y="392.1" width="0.92" height="57.5" fill="#FFC000" shape-rendering="crispEdges"/>
<rect x="1668.57" y="400.5" width="0.92" height="49.1" fill="#4472C4" shape-rendering="crispEdges"/>
<rect x="1669.49" y="398.9" width="0.92" height="50.7" fill="#70AD47" shape-rendering="crispEdges"/>
<rect x="1670.40" y="397.0" width="0.92" height="52.6" fill="#255E91" shape-rendering="crispEdges"/>
<rect x="1671.32" y="392.2" width="0.92" height="57.4" fill="#9E480E" shape-rendering="crispEdges"/>
<rect x="1672.24" y="399.5" width="0.92" height="50.1" fill="#636363" shape-rendering="crispEdges"/>
<rect x="1673.15" y="392.0" width="0.92" height="57.6" fill="#997300" shape-rendering="crispEdges"/>
<rect x="1674.07" y="398.3" width="0.92" height="51.3" fill="#264478" shape-rendering="crispEdges"/>
<rect x="1674.99" y="397.8" width="0.92" height="51.8" fill="#43682B" shape-rendering="crispEdges"/>
<rect x="1676.90" y="397.9" width="0.92" height="51.7" fill="#5B9BD5" shape-rendering="crispEdges"/>
<rect x="1677.82" y="405.6" width="0.92" height="44.0" fill="#ED7D31" shape-rendering="crispEdges"/>
<rect x="1678.73" y="399.2" width="0.92" height="50.4" fill="#A5A5A5" shape-rendering="crispEdges"/>
<rect x="1679.65" y="403.1" width="0.92" height="46.5" fill="#FFC000" shape-rendering="crispEdges"/>
<rect x="1680.57" y="405.8" width="0.92" height="43.8" fill="#4472C4" shape-rendering="crispEdges"/>
<rect x="1681.49" y="393.8" width="0.92" height="55.8" fill="#70AD47" shape-rendering="crispEdges"/>
<rect x="1682.40" y="403.3" width="0.92" height="46.3" fill="#255E91" shape-rendering="crispEdges"/>
<rect x="1683.32" y="398.7" width="0.92" height="50.9" fill="#9E480E" shape-rendering="crispEdges"/>
<rect x="1684.24" y="394.9" width="0.92" height="54.7" fill="#636363" shape-rendering="crispEdges"/>
<rect x="1685.15" y="397.4" width="0.92" height="52.2" fill="#997300" shape-rendering="crispEdges"/>
<rect x="1686.07" y="400.9" width="0.92" height="48.7" fill="#264478" shape-rendering="crispEdges"/>
<rect x="1686.99" y="398.0" width="0.92" height="51.6" fill="#43682B" shape-rendering="crispEdges"/>
<rect x="1688.90" y="397.5" width="0.92" height="52.1" fill="#5B9BD5" shape-rendering="crispEdges"/>
<rect x="1689.82" y="394.0" width="0.92" height="55.6" fill="#ED7D31" shape-rendering="crispEdges"/>
<rect x="1690.73" y="404.3" width="0.92" height="45.3" fill="#A5A5A5" shape-rendering="crispEdges"/>
<rect x="1691.65" y="397.4" width="0.92" height="52.2" fill="#FFC000" shape-rendering="crispEdges"/>
<rect x="1692.57" y="402.1" width="0.92" height="47.5" fill="#4472C4" shape-rendering="crispEdges"/>
<rect x="1693.49" y="401.7" width="0.92" height="47.9" fill="#70AD47" shape-rendering="crispEdges"/>
<rect x="1694.40" y="394.2" width="0.92" height="55.4" fill="#255E91" shape-rendering="crispEdges"/>
<rect x="1695.32" y="398.2" width="0.92" height="51.4" fill="#9E480E" shape-rendering="crispEdges"/>
<rect x="1696.24" y="397.4" width="0.92" height="52.2" fill="#636363" shape-rendering="crispEdges"/>
<rect x="1697.15" y="394.4" width="0.92" height="55.2" fill="#997300" shape-rendering="crispEdges"/>
<rect x="1698.07" y="392.1" width="0.92" height="57.5" fill="#264478" shape-rendering="crispEdges"/>
<rect x="1698.99" y="399.2" width="0.92" height="50.4" fill="#43682B" shape-rendering="crispEdges"/>
<rect x="1700.90" y="396.6" width="0.92" height="53.0" fill="#5B9BD5" shape-rendering="crispEdges"/>
<rect x="1701.82" y="398.2" width="0.92" height="51.4" fill="#ED7D31" shape-rendering="crispEdges"/>
<rect x="1702.73" y="398.1" width="0.92" height="51.5" fill="#A5A5A5" shape-rendering="crispEdges"/>
<rect x="1703.65" y="395.4" width="0.92" height="54.2" fill="#FFC000" shape-rendering="crispEdges"/>
<rect x="1704.57" y="399.0" width="0.92" height="50.6" fill="#4472C4" shape-rendering="crispEdges"/>
<rect x="1705.49" y="397.8" width="0.92" height="51.8" fill="#70AD47" shape-rendering="crispEdges"/>
<rect x="1706.40" y="398.6" width="0.92" height="51.0" fill="#255E91" shape-rendering="crispEdges"/>
<rect x="1707.32" y="391.6" width="0.92" height="58.0" fill="#9E480E" shape-rendering="crispEdges"/>
<rect x="1708.24" y="395.3" width="0.92" height="54.3" fill="#636363" shape-rendering="crispEdges"/>
<rect x="1709.15" y="392.6" width="0.92" height="57.0" fill="#997300" shape-rendering="crispEdges"/>
<rect x="1710.07" y="391.6" width="0.92" height="58.0" fill="#264478" shape-rendering="crispEdges"/>
<rect x="1710.99" y="401.9" width="0.92" height="47.7" fill="#43682B" shape-rendering="crispEdges"/>
<rect x="1712.90" y="397.4" width="0.92" height="52.2" fill="#5B9BD5" shape-rendering="crispEdges"/>
<rect x="1713.82" y="391.6" width="0.92" height="58.0" fill="#ED7D31" shape-rendering="crispEdges"/>
<rect x="1714.73" y="393.2" width="0.92" height="56.4" fill="#A5A5A5" shape-rendering="crispEdges"/>
<rect x="1715.65" y="403.8" width="0.92" height="45.8" fill="#FFC000" shape-rendering="crispEdges"/>
<rect x="1716.57" y="404.0" width="0.92" height="45.6" fill="#4472C4" shape-rendering="crispEdges"/>
<rect x="1717.49" y="399.2" width="0.92" height="50.4" fill="#70AD47" shape-rendering="crispEdges"/>
<rect x="1718.40" y="404.8" width="0.92" height="44.8" fill="#255E91" shape-rendering="crispEdges"/>
<rect x="1719.32" y="402.2" width="0.92" height="47.4" fill="#9E480E" shape-rendering="crispEdges"/>
<rect x="1720.24" y="404.8" width="0.92" height="44.8" fill="#636363" shape-rendering="crispEdges"/>
<rect x="1721.15" y="395.7" width="0.92" height="53.9" fill="#997300" shape-rendering="crispEdges"/>
<rect x="1722.07" y="394.0" width="0.92" height="55.6" fill="#264478" shape-rendering="crispEdges"/>
<rect x="1722.99" y="392.3" width="0.92" height="57.3" fill="#43682B" shape-rendering="crispEdges"/>
<rect x="1724.90" y="403.5" width="0.92" height="46.1" fill="#5B9BD5" shape-rendering="crispEdges"/>
<rect x="1725.82" y="395.0" width="0.92" height="54.6" fill="#ED7D31" shape-rendering="crispEdges"/>
<rect x="1726.73" y="395.9" width="0.92" height="53.7" fill="#A5A5A5" shape-rendering="crispEdges"/>
<rect x="1727.65" y="403.7" width="0.92" height="45.9" fill="#FFC000" shape-rendering="crispEdges"/>
<rect x="1728.57" y="392.5" width="0.92" height="57.1" fill="#4472C4" shape-rendering="crispEdges"/>
<rect x="1729.49" y="391.2" width="0.92" height="58.4" fill="#70AD47" shape-rendering="crispEdges"/>
<rect x="1730.40" y="402.5" width="0.92" height="47.1" fill="#255E91" shape-rendering="crispEdges"/>
<rect x="1731.32" y="391.4" width="0.92" height="58.2" fill="#9E480E" shape-rendering="crispEdges"/>
<rect x="1732.24" y="399.8" width="0.92" height="49.8" fill="#636363" shape-rendering="crispEdges"/>
<rect x="1733.15" y="398.5" width="0.92" height="51.1" fill="#997300" shape-rendering="crispEdges"/>
<rect x="1734.07" y="390.9" width="0.92" height="58.7" fill="#264478" shape-rendering="crispEdges"/>
<rect x="1734.99" y="393.3" width="0.92" height="56.3" fill="#43682B" shape-rendering="crispEdges"/>
<rect x="1736.90" y="403.4" width="0.92" height="46.2" fill="#5B9BD5" shape-rendering="crispEdges"/>
<rect x="1737.82" y="399.3" width="0.92" height="50.3" fill="#ED7D31" shape-rendering="crispEdges"/>
<rect x="1738.73" y="398.1" width="0.92" height="51.5" fill="#A5A5A5" shape-rendering="crispEdges"/>
<rect x="1739.65" y="400.7" width="0.92" height="48.9" fill="#FFC000" shape-rendering="crispEdges"/>
<rect x="1740.57" y="402.9" width="0.92" height="46.7" fill="#4472C4" shape-rendering="crispEdges"/>
<rect x="1741.49" y="401.0" width="0.92" height="48.6" fill="#70AD47" shape-rendering="crispEdges"/>
<rect x="1742.40" y="394.9" width="0.92" height="54.7" fill="#255E91" shape-rendering="crispEdges"/>
<rect x="1743.32" y="405.6" width="0.92" height="44.0" fill="#9E480E" shape-rendering="crispEdges"/>
<rect x="1744.24" y="397.5" width="0.92" height="52.1" fill="#636363" shape-rendering="crispEdges"/>
<rect x="1745.15" y="399.2" width="0.92" height="50.4" fill="#997300" shape-rendering="crispEdges"/>
<rect x="1746.07" y="405.6" width="0.92" height="44.0" fill="#264478" shape-rendering="crispEdges"/>
<rect x="1746.99" y="400.8" width="0.92" height="48.8" fill="#43682B" shape-rendering="crispEdges"/>
<rect x="1748.90" y="396.4" width="0.92" height="53.2" fill="#5B9BD5" shape-rendering="crispEdges"/>
<rect x="1749.82" y="398.1" width="0.92" height="51.5" fill="#ED7D31" shape-rendering="crispEdges"/>
<rect x="1750.73" y="404.9" width="0.92" height="44.7" fill="#A5A5A5" shape-rendering="crispEdges"/>
<rect x="1751.65" y="391.0" width="0.92" height="58.6" fill="#FFC000" shape-rendering="crispEdges"/>
<rect x="1752.57" y="393.9" width="0.92" height="55.7" fill="#4472C4" shape-rendering="crispEdges"/>
<rect x="1753.49" y="391.2" width="0.92" height="58.4" fill="#70AD47" shape-rendering="crispEdges"/>
<rect x="1754.40" y="404.3" width="0.92" height="45.3" fill="#255E91" shape-rendering="crispEdges"/>
<rect x="1755.32" y="401.8" width="0.92" height="47.8" fill="#9E480E" shape-rendering="crispEdges"/>
<rect x="1756.24" y="405.3" width="0.92" height="44.3" fill="#636363" shape-rendering="crispEdges"/>
<rect x="1757.15" y="394.1" width="0.92" height="55.5" fill="#997300" shape-rendering="crispEdges"/>
<rect x="1758.07" y="401.8" width="0.92" height="47.8" fill="#264478" shape-rendering="crispEdges"/>
<rect x="1758.99" y="403.9" width="0.92" height="45.7" fill="#43682B" shape-rendering="crispEdges"/>
<rect x="1760.90" y="399.5" width="0.92" height="50.1" fill="#5B9BD5" shape-rendering="crispEdges"/>
<rect x="1761.82" y="392.1" width="0.92" height="57.5" fill="#ED7D31" shape-rendering="crispEdges"/>
<rect x="1762.73" y="393.5" width="0.92" height="56.1" fill="#A5A5A5" shape-rendering="crispEdges"/>
<rect x="1763.65" y="402.0" width="0.92" height="47.6" fill="#FFC000" shape-rendering="crispEdges"/>
<rect x="1764.57" y="403.6" width="0.92" height="46.0" fill="#4472C4" shape-rendering="crispEdges"/>
<rect x="1765.49" y="392.0" width="0.92" height="57.6" fill="#70AD47" shape-rendering="crispEdges"/>
<rect x="1766.40" y="397.2" width="0.92" height="52.4" fill="#255E91" shape-rendering="crispEdges"/>
<rect x="1767.32" y="395.3" width="0.92" height="54.3" fill="#9E480E" shape-rendering="crispEdges"/>
<rect x="1768.24" y="404.5" width="0.92" height="45.1" fill="#636363" shape-rendering="crispEdges"/>
<rect x="1769.15" y="405.0" width="0.92" height="44.6" fill="#997300" shape-rendering="crispEdges"/>
<rect x="1770.07" y="395.4" width="0.92" height="54.2" fill="#264478" shape-rendering="crispEdges"/>
<rect x="1770.99" y="399.4" width="0.92" height="50.2" fill="#43682B" shape-rendering="crispEdges"/>
<rect x="1772.90" y="404.8" width="0.92" height="44.8" fill="#5B9BD5" shape-rendering="crispEdges"/>
<rect x="1773.82" y="391.7" width="0.92" height="57.9" fill="#ED7D31" shape-rendering="crispEdges"/>
<rect x="1774.73" y="396.3" width="0.92" height="53.3" fill="#A5A5A5" shape-rendering="crispEdges"/>
<rect x="1775.65" y="393.7" width="0.92" height="55.9" fill="#FFC000" shape-rendering="crispEdges"/>
<rect x="1776.57" y="404.6" width="0.92" height="45.0" fill="#4472C4" shape-rendering="crispEdges"/>
<rect x="1777.49" y="392.9" width="0.92" height="56.7" fill="#70AD47" shape-rendering="crispEdges"/>
<rect x="1778.40" y="404.9" width="0.92" height="44.7" fill="#255E91" shape-rendering="crispEdges"/>
<rect x="1779.32" y="392.8" width="0.92" height="56.8" fill="#9E480E" shape-rendering="crispEdges"/>
<rect x="1780.24" y="399.0" width="0.92" height="50.6" fill="#636363" shape-rendering="crispEdges"/>
<rect x="1781.15" y="400.7" width="0.92" height="48.9" fill="#997300" shape-rendering="crispEdges"/>
<rect x="1782.07" y="397.5" width="0.92" height="52.1" fill="#264478" shape-rendering="crispEdges"/>
<rect x="1782.99" y="391.8" width="0.92" height="57.8" fill="#43682B" shape-rendering="crispEdges"/>
<rect x="1784.90" y="401.8" width="0.92" height="47.8" fill="#5B9BD5" shape-rendering="crispEdges"/>
<rect x="1785.82" y="403.9" width="0.92" height="45.7" fill="#ED7D31" shape-rendering="crispEdges"/>
<rect x="1786.73" y="397.9" width="0.92" height="51.7" fill="#A5A5A5" shape-rendering="crispEdges"/>
<rect x="1787.65" y="402.3" width="0.92" height="47.3" fill="#FFC000" shape-rendering="crispEdges"/>
<rect x="1788.57" y="404.2" width="0.92" height="45.4" fill="#4472C4" shape-rendering="crispEdges"/>
<rect x="1789.49" y="403.4" width="0.92" height="46.2" fill="#70AD47" shape-rendering="crispEdges"/>
<rect x="1790.40" y="405.1" width="0.92" height="44.5" fill="#255E91" shape-rendering="crispEdges"/>
<rect x="1791.32" y="402.8" width="0.92" height="46.8" fill="#9E480E" shape-rendering="crispEdges"/>
<rect x="1792.24" y="401.1" width="0.92" height="48.5" fill="#636363" shape-rendering="crispEdges"/>
<rect x="1793.15" y="401.3" width="0.92" height="48.3" fill="#997300" shape-rendering="crispEdges"/>
<rect x="1794.07" y="394.4" width="0.92" height="55.2" fill="#264478" shape-rendering="crispEdges"/>
<rect x="1794.99" y="401.5" width="0.92" height="48.1" fill="#43682B" shape-rendering="crispEdges"/>
<rect x="1796.90" y="398.3" width="0.92" height="51.3" fill="#5B9BD5" shape-rendering="crispEdges"/>
<rect x="1797.82" y="403.2" width="0.92" height="46.4" fill="#ED7D31" shape-rendering="crispEdges"/>
<rect x="1798.73" y="400.6" width="0.92" height="49.0" fill="#A5A5A5" shape-rendering="crispEdges"/>
<rect x="1799.65" y="405.6" width="0.92" height="44.0" fill="#FFC000" shape-rendering="crispEdges"/>
<rect x="1800.57" y="402.1" width="0.92" height="47.5" fill="#4472C4" shape-rendering="crispEdges"/>
<rect x="1801.49" y="405.6" width="0.92" height="44.0" fill="#70AD47" shape-rendering="crispEdges"/>
<rect x="1802.40" y="394.8" width="0.92" height="54.8" fill="#255E91" shape-rendering="crispEdges"/>
<rect x="1803.32" y="397.5" width="0.92" height="52.1" fill="#9E480E" shape-rendering="crispEdges"/>
<rect x="1804.24" y="403.0" width="0.92" height="46.6" fill="#636363" shape-rendering="crispEdges"/>
<rect x="1805.15" y="398.7" width="0.92" height="50.9" fill="#997300" shape-rendering="crispEdges"/>
<rect x="1806.07" y="391.7" width="0.92" height="57.9" fill="#264478" shape-rendering="crispEdges"/>
<rect x="1806.99" y="404.3" width="0.92" height="45.3" fill="#43682B" shape-rendering="crispEdges"/>
<rect x="1808.90" y="393.5" width="0.92" height="56.1" fill="#5B9BD5" shape-rendering="crispEdges"/>
<rect x="1809.82" y="399.3" width="0.92" height="50.3" fill="#ED7D31" shape-rendering="crispEdges"/>
<rect x="1810.73" y="398.4" width="0.92" height="51.2" fill="#A5A5A5" shape-rendering="crispEdges"/>
<rect x="1811.65" y="393.2" width="0.92" height="56.4" fill="#FFC000" shape-rendering="crispEdges"/>
<rect x="1812.57" y="399.9" width="0.92" height="49.7" fill="#4472C4" shape-rendering="crispEdges"/>
<rect x="1813.49" y="398.2" width="0.92" height="51.4" fill="#70AD47" shape-rendering="crispEdges"/>
<rect x="1814.40" y="395.5" width="0.92" height="54.1" fill="#255E91" shape-rendering="crispEdges"/>
<rect x="1815.32" y="391.0" width="0.92" height="58.6" fill="#9E480E" shape-rendering="crispEdges"/>
<rect x="1816.24" y="400.7" width="0.92" height="48.9" fill="#636363" shape-rendering="crispEdges"/>
<rect x="1817.15" y="393.3" width="0.92" height="56.3" fill="#997300" shape-rendering="crispEdges"/>
<rect x="1818.07" y="395.2" width="0.92" height="54.4" fill="#264478" shape-rendering="crispEdges"/>
<rect x="1818.99" y="396.2" width="0.92" height="53.4" fill="#43682B" shape-rendering="crispEdges"/>
<rect x="1820.90" y="399.7" width="0.92" height="49.9" fill="#5B9BD5" shape-rendering="crispEdges"/>
<rect x="1821.82" y="400.6" width="0.92" height="49.0" fill="#ED7D31" shape-rendering="crispEdges"/>
<rect x="1822.73" y="405.0" width="0.92" height="44.6" fill="#A5A5A5" shape-rendering="crispEdges"/>
<rect x="1823.65" y="403.9" width="0.92" height="45.7" fill="#FFC000" shape-rendering="crispEdges"/>
<rect x="1824.57" y="404.8" width="0.92" height="44.8" fill="#4472C4" shape-rendering="crispEdges"/>
<rect x="1825.49" y="394.7" width="0.92" height="54.9" fill="#70AD47" shape-rendering="crispEdges"/>
<rect x="1826.40" y="402.0" width="0.92" height="47.6" fill="#255E91" shape-rendering="crispEdges"/>
<rect x="1827.32" y="403.4" width="0.92" height="46.2" fill="#9E480E" shape-rendering="crispEdges"/>
<rect x="1828.24" y="404.6" width="0.92" height="45.0" fill="#636363" shape-rendering="crispEdges"/>
<rect x="1829.15" y="393.1" width="0.92" height="56.5" fill="#997300" shape-rendering="crispEdges"/>
<rect x="1830.07" y="392.7" width="0.92" height="56.9" fill="#264478" shape-rendering="crispEdges"/>
<rect x="1830.99" y="395.7" width="0.92" height="53.9" fill="#43682B" shape-rendering="crispEdges"/>
<rect x="1832.90" y="401.6" width="0.92" height="48.0" fill="#5B9BD5" shape-rendering="crispEdges"/>
<rect x="1833.82" y="402.2" width="0.92" height="47.4" fill="#ED7D31" shape-rendering="crispEdges"/>
<rect x="1834.73" y="401.4" width="0.92" height="48.2" fill="#A5A5A5" shape-rendering="crispEdges"/>
<rect x="1835.65" y="398.9" width="0.92" height="50.7" fill="#FFC000" shape-rendering="crispEdges"/>
<rect x="1836.57" y="403.5" width="0.92" height="46.1" fill="#4472C4" shape-rendering="crispEdges"/>
<rect x="1837.49" y="399.1" width="0.92" height="50.5" fill="#70AD47" shape-rendering="crispEdges"/>
<rect x="1838.40" y="401.9" width="0.92" height="47.7" fill="#255E91" shape-rendering="crispEdges"/>
<rect x="1839.32" y="391.3" width="0.92" height="58.3" fill="#9E480E" shape-rendering="crispEdges"/>
<rect x="1840.24" y="391.1" width="0.92" height="58.5" fill="#636363" shape-rendering="crispEdges"/>
<rect x="1841.15" y="397.6" width="0.92" height="52.0" fill="#997300" shape-rendering="crispEdges"/>
<rect x="1842.07" y="402.2" width="0.92" height="47.4" fill="#264478" shape-rendering="crispEdges"/>
<rect x="1842.99" y="391.2" width="0.92" height="58.4" fill="#43682B" shape-rendering="crispEdges"/>
<rect x="1844.90" y="401.2" width="0.92" height="48.4" fill="#5B9BD5" shape-rendering="crispEdges"/>
<rect x="1845.82" y="400.5" width="0.92" height="49.1" fill="#ED7D31" shape-rendering="crispEdges"/>
<rect x="1846.73" y="405.9" width="0.92" height="43.7" fill="#A5A5A5" shape-rendering="crispEdges"/>
<rect x="1847.65" y="400.1" width="0.92" height="49.5" fill="#FFC000" shape-rendering="crispEdges"/>
<rect x="1848.57" y="398.7" width="0.92" height="50.9" fill="#4472C4" shape-rendering="crispEdges"/>
<rect x="1849.49" y="398.3" width="0.92" height="51.3" fill="#70AD47" shape-rendering="crispEdges"/>
<rect x="1850.40" y="402.8" width="0.92" height="46.8" fill="#255E91" shape-rendering="crispEdges"/>
<rect x="1851.32" y="398.2" width="0.92" height="51.4" fill="#9E480E" shape-rendering="crispEdges"/>
<rect x="1852.24" y="405.8" width="0.92" height="43.8" fill="#636363" shape-rendering="crispEdges"/>
<rect x="1853.15" y="401.9" width="0.92" height="47.7" fill="#997300" shape-rendering="crispEdges"/>
<rect x="1854.07" y="404.5" width="0.92" height="45.1" fill="#264478" shape-rendering="crispEdges"/>
<rect x="1854.99" y="399.8" width="0.92" height="49.8" fill="#43682B" shape-rendering="crispEdges"/>
<text x="1422.4" y="385.4" font-size="4.4" fill="#3a3a3a">677</text>
<text x="1429.5" y="386.4" font-size="4.4" fill="#3a3a3a">735</text>
<text x="1432.1" y="387.5" font-size="4.4" fill="#3a3a3a">752</text>
<text x="1426.6" y="390.2" font-size="4.4" fill="#3a3a3a">726</text>
<text x="1423.7" y="396.6" font-size="4.4" fill="#3a3a3a">637</text>
<text x="1422.4" y="398.4" font-size="4.4" fill="#3a3a3a">731</text>
<text x="1441.4" y="396.7" font-size="4.4" fill="#3a3a3a">729</text>
<text x="1435.6" y="393.4" font-size="4.4" fill="#3a3a3a">729</text>
<text x="1440.7" y="398.0" font-size="4.4" fill="#3a3a3a">604</text>
<text x="1443.8" y="394.3" font-size="4.4" fill="#3a3a3a">658</text>
<text x="1434.9" y="385.7" font-size="4.4" fill="#3a3a3a">692</text>
<text x="1445.4" y="391.0" font-size="4.4" fill="#3a3a3a">715</text>
<text x="1452.6" y="395.0" font-size="4.4" fill="#3a3a3a">760</text>
<text x="1452.3" y="388.9" font-size="4.4" fill="#3a3a3a">667</text>
<text x="1445.9" y="397.8" font-size="4.4" fill="#3a3a3a">728</text>
<text x="1456.7" y="386.5" font-size="4.4" fill="#3a3a3a">734</text>
<text x="1446.7" y="396.8" font-size="4.4" fill="#3a3a3a">664</text>
<text x="1455.6" y="398.5" font-size="4.4" fill="#3a3a3a">660</text>
<text x="1466.7" y="388.3" font-size="4.4" fill="#3a3a3a">717</text>
<text x="1463.8" y="391.1" font-size="4.4" fill="#3a3a3a">722</text>
<text x="1468.8" y="389.6" font-size="4.4" fill="#3a3a3a">611</text>
<text x="1465.3" y="395.3" font-size="4.4" fill="#3a3a3a">619</text>
<text x="1465.1" y="390.3" font-size="4.4" fill="#3a3a3a">677</text>
<text x="1465.4" y="387.1" font-size="4.4" fill="#3a3a3a">723</text>
<text x="1470.6" y="389.3" font-size="4.4" fill="#3a3a3a">625</text>
<text x="1478.2" y="395.8" font-size="4.4" fill="#3a3a3a">674</text>
<text x="1478.4" y="389.6" font-size="4.4" fill="#3a3a3a">719</text>
<text x="1475.5" y="386.9" font-size="4.4" fill="#3a3a3a">740</text>
<text x="1472.3" y="400.7" font-size="4.4" fill="#3a3a3a">721</text>
<text x="1470.1" y="392.3" font-size="4.4" fill="#3a3a3a">729</text>
<text x="1493.5" y="392.2" font-size="4.4" fill="#3a3a3a">668</text>
<text x="1486.5" y="399.7" font-size="4.4" fill="#3a3a3a">653</text>
<text x="1482.8" y="386.4" font-size="4.4" fill="#3a3a3a">734</text>
<text x="1485.0" y="390.8" font-size="4.4" fill="#3a3a3a">754</text>
<text x="1491.7" y="393.1" font-size="4.4" fill="#3a3a3a">628</text>
<text x="1490.3" y="388.7" font-size="4.4" fill="#3a3a3a">724</text>
<text x="1498.6" y="387.5" font-size="4.4" fill="#3a3a3a">725</text>
<text x="1502.1" y="391.5" font-size="4.4" fill="#3a3a3a">636</text>
<text x="1498.9" y="391.0" font-size="4.4" fill="#3a3a3a">630</text>
<text x="1504.0" y="385.0" font-size="4.4" fill="#3a3a3a">686</text>
<text x="1504.0" y="386.9" font-size="4.4" fill="#3a3a3a">650</text>
<text x="1502.5" y="399.4" font-size="4.4" fill="#3a3a3a">674</text>
<text x="1508.9" y="386.0" font-size="4.4" fill="#3a3a3a">699</text>
<text x="1517.9" y="394.4" font-size="4.4" fill="#3a3a3a">692</text>
<text x="1517.0" y="397.1" font-size="4.4" fill="#3a3a3a">612</text>
<text x="1509.3" y="385.8" font-size="4.4" fill="#3a3a3a">673</text>
<text x="1513.5" y="387.4" font-size="4.4" fill="#3a3a3a">668</text>
<text x="1511.1" y="390.0" font-size="4.4" fill="#3a3a3a">695</text>
<text x="1527.3" y="391.8" font-size="4.4" fill="#3a3a3a">607</text>
<text x="1527.6" y="395.1" font-size="4.4" fill="#3a3a3a">741</text>
<text x="1524.5" y="396.5" font-size="4.4" fill="#3a3a3a">612</text>
<text x="1529.1" y="391.6" font-size="4.4" fill="#3a3a3a">757</text>
<text x="1526.9" y="395.3" font-size="4.4" fill="#3a3a3a">673</text>
<text x="1523.7" y="399.6" font-size="4.4" fill="#3a3a3a">740</text>
<text x="1531.4" y="392.6" font-size="4.4" fill="#3a3a3a">687</text>
<text x="1533.3" y="389.1" font-size="4.4" fill="#3a3a3a">666</text>
<text x="1534.8" y="388.8" font-size="4.4" fill="#3a3a3a">723</text>
<text x="1536.6" y="391.3" font-size="4.4" fill="#3a3a3a">642</text>
<text x="1537.6" y="386.2" font-size="4.4" fill="#3a3a3a">728</text>
<text x="1540.8" y="393.0" font-size="4.4" fill="#3a3a3a">656</text>
<text x="1547.3" y="390.3" font-size="4.4" fill="#3a3a3a">715</text>
<text x="1547.0" y="393.8" font-size="4.4" fill="#3a3a3a">662</text>
<text x="1543.0" y="390.5" font-size="4.4" fill="#3a3a3a">623</text>
<text x="1545.7" y="390.9" font-size="4.4" fill="#3a3a3a">745</text>
<text x="1544.3" y="385.3" font-size="4.4" fill="#3a3a3a">705</text>
<text x="1546.5" y="396.9" font-size="4.4" fill="#3a3a3a">653</text>
<text x="1558.4" y="390.4" font-size="4.4" fill="#3a3a3a">615</text>
<text x="1559.9" y="394.2" font-size="4.4" fill="#3a3a3a">692</text>
<text x="1555.4" y="393.1" font-size="4.4" fill="#3a3a3a">655</text>
<text x="1555.0" y="399.3" font-size="4.4" fill="#3a3a3a">698</text>
<text x="1558.7" y="392.1" font-size="4.4" fill="#3a3a3a">679</text>
<text x="1564.1" y="399.0" font-size="4.4" fill="#3a3a3a">605</text>
<text x="1567.4" y="391.8" font-size="4.4" fill="#3a3a3a">721</text>
<text x="1577.5" y="392.8" font-size="4.4" fill="#3a3a3a">618</text>
<text x="1570.6" y="399.8" font-size="4.4" fill="#3a3a3a">735</text>
<text x="1576.2" y="400.6" font-size="4.4" fill="#3a3a3a">663</text>
<text x="1575.3" y="388.6" font-size="4.4" fill="#3a3a3a">638</text>
<text x="1572.2" y="395.9" font-size="4.4" fill="#3a3a3a">717</text>
<text x="1578.9" y="397.4" font-size="4.4" fill="#3a3a3a">600</text>
<text x="1587.3" y="388.7" font-size="4.4" fill="#3a3a3a">609</text>
<text x="1585.6" y="389.9" font-size="4.4" fill="#3a3a3a">632</text>
<text x="1585.4" y="393.5" font-size="4.4" fill="#3a3a3a">711</text>
<text x="1586.3" y="386.8" font-size="4.4" fill="#3a3a3a">618</text>
<text x="1581.5" y="400.1" font-size="4.4" fill="#3a3a3a">649</text>
<text x="1594.6" y="388.6" font-size="4.4" fill="#3a3a3a">753</text>
<text x="1589.9" y="393.6" font-size="4.4" fill="#3a3a3a">717</text>
<text x="1593.2" y="390.1" font-size="4.4" fill="#3a3a3a">662</text>
<text x="1595.6" y="388.8" font-size="4.4" fill="#3a3a3a">663</text>
<text x="1590.3" y="391.6" font-size="4.4" fill="#3a3a3a">678</text>
<text x="1590.6" y="388.1" font-size="4.4" fill="#3a3a3a">707</text>
<text x="1602.9" y="388.6" font-size="4.4" fill="#3a3a3a">708</text>
<text x="1613.0" y="388.6" font-size="4.4" fill="#3a3a3a">608</text>
<text x="1610.2" y="396.5" font-size="4.4" fill="#3a3a3a">692</text>
<text x="1610.1" y="388.2" font-size="4.4" fill="#3a3a3a">674</text>
<text x="1610.8" y="393.1" font-size="4.4" fill="#3a3a3a">652</text>
<text x="1607.8" y="388.2" font-size="4.4" fill="#3a3a3a">649</text>
<text x="1616.7" y="388.5" font-size="4.4" fill="#3a3a3a">675</text>
<text x="1615.2" y="395.0" font-size="4.4" fill="#3a3a3a">756</text>
<text x="1616.1" y="388.6" font-size="4.4" fill="#3a3a3a">706</text>
<text x="1624.8" y="385.9" font-size="4.4" fill="#3a3a3a">752</text>
<text x="1615.7" y="391.3" font-size="4.4" fill="#3a3a3a">654</text>
<text x="1614.2" y="394.5" font-size="4.4" fill="#3a3a3a">706</text>
<text x="1626.5" y="386.0" font-size="4.4" fill="#3a3a3a">700</text>
<text x="1631.3" y="396.4" font-size="4.4" fill="#3a3a3a">680</text>
<text x="1634.7" y="401.0" font-size="4.4" fill="#3a3a3a">642</text>
<text x="1629.9" y="388.0" font-size="4.4" fill="#3a3a3a">734</text>
<text x="1634.9" y="385.5" font-size="4.4" fill="#3a3a3a">696</text>
<text x="1636.0" y="400.8" font-size="4.4" fill="#3a3a3a">713</text>
<text x="1639.9" y="385.0" font-size="4.4" fill="#3a3a3a">671</text>
<text x="1638.9" y="391.7" font-size="4.4" fill="#3a3a3a">631</text>
<text x="1644.6" y="397.1" font-size="4.4" fill="#3a3a3a">697</text>
<text x="1642.2" y="398.1" font-size="4.4" fill="#3a3a3a">710</text>
<text x="1639.0" y="396.3" font-size="4.4" fill="#3a3a3a">650</text>
<text x="1642.4" y="399.7" font-size="4.4" fill="#3a3a3a">649</text>
<text x="1653.8" y="396.8" font-size="4.4" fill="#3a3a3a">721</text>
<text x="1650.3" y="391.6" font-size="4.4" fill="#3a3a3a">760</text>
<text x="1659.1" y="385.7" font-size="4.4" fill="#3a3a3a">608</text>
<text x="1655.5" y="397.9" font-size="4.4" fill="#3a3a3a">615</text>
<text x="1653.0" y="397.0" font-size="4.4" fill="#3a3a3a">755</text>
<text x="1654.0" y="389.4" font-size="4.4" fill="#3a3a3a">757</text>
<text x="1662.4" y="396.9" font-size="4.4" fill="#3a3a3a">681</text>
<text x="1673.0" y="389.8" font-size="4.4" fill="#3a3a3a">752</text>
<text x="1672.9" y="395.1" font-size="4.4" fill="#3a3a3a">616</text>
<text x="1662.2" y="388.7" font-size="4.4" fill="#3a3a3a">721</text>
<text x="1670.5" y="392.5" font-size="4.4" fill="#3a3a3a">698</text>
<text x="1671.4" y="399.6" font-size="4.4" fill="#3a3a3a">726</text>
<text x="1675.5" y="392.9" font-size="4.4" fill="#3a3a3a">602</text>
<text x="1683.5" y="396.8" font-size="4.4" fill="#3a3a3a">638</text>
<text x="1681.2" y="390.2" font-size="4.4" fill="#3a3a3a">681</text>
<text x="1679.4" y="397.5" font-size="4.4" fill="#3a3a3a">752</text>
<text x="1674.8" y="388.2" font-size="4.4" fill="#3a3a3a">640</text>
<text x="1676.9" y="386.0" font-size="4.4" fill="#3a3a3a">608</text>
<text x="1691.7" y="393.7" font-size="4.4" fill="#3a3a3a">641</text>
<text x="1697.7" y="399.1" font-size="4.4" fill="#3a3a3a">618</text>
<text x="1689.1" y="386.3" font-size="4.4" fill="#3a3a3a">624</text>
<text x="1691.0" y="400.8" font-size="4.4" fill="#3a3a3a">714</text>
<text x="1688.0" y="387.1" font-size="4.4" fill="#3a3a3a">717</text>
<text x="1693.3" y="395.8" font-size="4.4" fill="#3a3a3a">737</text>
<text x="1708.1" y="395.6" font-size="4.4" fill="#3a3a3a">631</text>
<text x="1707.3" y="389.7" font-size="4.4" fill="#3a3a3a">671</text>
<text x="1704.7" y="391.0" font-size="4.4" fill="#3a3a3a">666</text>
<text x="1700.3" y="389.0" font-size="4.4" fill="#3a3a3a">662</text>
<text x="1700.7" y="389.5" font-size="4.4" fill="#3a3a3a">748</text>
<text x="1700.2" y="386.0" font-size="4.4" fill="#3a3a3a">664</text>
<text x="1721.8" y="393.1" font-size="4.4" fill="#3a3a3a">659</text>
<text x="1717.7" y="386.6" font-size="4.4" fill="#3a3a3a">718</text>
<text x="1721.8" y="386.6" font-size="4.4" fill="#3a3a3a">721</text>
<text x="1720.5" y="388.7" font-size="4.4" fill="#3a3a3a">714</text>
<text x="1720.9" y="385.6" font-size="4.4" fill="#3a3a3a">675</text>
<text x="1712.7" y="385.8" font-size="4.4" fill="#3a3a3a">753</text>
<text x="1733.6" y="394.3" font-size="4.4" fill="#3a3a3a">619</text>
<text x="1726.4" y="398.9" font-size="4.4" fill="#3a3a3a">714</text>
<text x="1729.1" y="397.4" font-size="4.4" fill="#3a3a3a">601</text>
<text x="1723.2" y="394.5" font-size="4.4" fill="#3a3a3a">758</text>
<text x="1726.1" y="385.6" font-size="4.4" fill="#3a3a3a">687</text>
<text x="1723.6" y="388.3" font-size="4.4" fill="#3a3a3a">665</text>
<text x="1734.4" y="396.7" font-size="4.4" fill="#3a3a3a">652</text>
<text x="1743.7" y="398.1" font-size="4.4" fill="#3a3a3a">704</text>
<text x="1742.0" y="388.0" font-size="4.4" fill="#3a3a3a">679</text>
<text x="1734.8" y="385.5" font-size="4.4" fill="#3a3a3a">726</text>
<text x="1740.5" y="386.0" font-size="4.4" fill="#3a3a3a">625</text>
<text x="1743.5" y="395.6" font-size="4.4" fill="#3a3a3a">639</text>
<text x="1753.6" y="386.5" font-size="4.4" fill="#3a3a3a">641</text>
<text x="1750.7" y="389.3" font-size="4.4" fill="#3a3a3a">672</text>
<text x="1753.9" y="391.7" font-size="4.4" fill="#3a3a3a">613</text>
<text x="1749.6" y="394.1" font-size="4.4" fill="#3a3a3a">691</text>
<text x="1750.9" y="385.3" font-size="4.4" fill="#3a3a3a">693</text>
<text x="1753.6" y="391.3" font-size="4.4" fill="#3a3a3a">703</text>
<text x="1760.3" y="385.1" font-size="4.4" fill="#3a3a3a">640</text>
<text x="1763.0" y="398.1" font-size="4.4" fill="#3a3a3a">703</text>
<text x="1764.8" y="390.8" font-size="4.4" fill="#3a3a3a">641</text>
<text x="1759.5" y="385.8" font-size="4.4" fill="#3a3a3a">636</text>
<text x="1765.6" y="399.6" font-size="4.4" fill="#3a3a3a">622</text>
<text x="1764.8" y="399.8" font-size="4.4" fill="#3a3a3a">729</text>
<text x="1772.0" y="390.6" font-size="4.4" fill="#3a3a3a">641</text>
<text x="1776.2" y="399.8" font-size="4.4" fill="#3a3a3a">627</text>
<text x="1774.5" y="397.1" font-size="4.4" fill="#3a3a3a">650</text>
<text x="1773.5" y="398.4" font-size="4.4" fill="#3a3a3a">611</text>
<text x="1781.6" y="392.7" font-size="4.4" fill="#3a3a3a">613</text>
<text x="1777.2" y="395.2" font-size="4.4" fill="#3a3a3a">622</text>
<text x="1792.8" y="394.9" font-size="4.4" fill="#3a3a3a">641</text>
<text x="1789.6" y="398.7" font-size="4.4" fill="#3a3a3a">758</text>
<text x="1786.8" y="398.5" font-size="4.4" fill="#3a3a3a">721</text>
<text x="1784.1" y="388.5" font-size="4.4" fill="#3a3a3a">702</text>
<text x="1793.2" y="387.5" font-size="4.4" fill="#3a3a3a">691</text>
<text x="1783.4" y="389.0" font-size="4.4" fill="#3a3a3a">649</text>
<text x="1794.4" y="394.0" font-size="4.4" fill="#3a3a3a">609</text>
<text x="1801.9" y="390.2" font-size="4.4" fill="#3a3a3a">699</text>
<text x="1801.1" y="393.8" font-size="4.4" fill="#3a3a3a">760</text>
<text x="1803.2" y="395.4" font-size="4.4" fill="#3a3a3a">678</text>
<text x="1800.9" y="391.8" font-size="4.4" fill="#3a3a3a">694</text>
<text x="1799.3" y="392.0" font-size="4.4" fill="#3a3a3a">605</text>
<text x="1805.9" y="400.8" font-size="4.4" fill="#3a3a3a">719</text>
<text x="1808.7" y="397.2" font-size="4.4" fill="#3a3a3a">717</text>
<text x="1815.9" y="398.0" font-size="4.4" fill="#3a3a3a">702</text>
<text x="1807.2" y="387.1" font-size="4.4" fill="#3a3a3a">710</text>
<text x="1810.3" y="397.8" font-size="4.4" fill="#3a3a3a">729</text>
<text x="1812.0" y="385.7" font-size="4.4" fill="#3a3a3a">633</text>
<text x="1818.9" y="396.7" font-size="4.4" fill="#3a3a3a">730</text>
<text x="1818.9" y="397.0" font-size="4.4" fill="#3a3a3a">696</text>
<text x="1825.7" y="397.5" font-size="4.4" fill="#3a3a3a">606</text>
<text x="1828.2" y="400.9" font-size="4.4" fill="#3a3a3a">628</text>
<text x="1820.2" y="400.7" font-size="4.4" fill="#3a3a3a">725</text>
<text x="1821.4" y="398.0" font-size="4.4" fill="#3a3a3a">642</text>
<text x="1838.1" y="396.5" font-size="4.4" fill="#3a3a3a">656</text>
<text x="1830.7" y="390.6" font-size="4.4" fill="#3a3a3a">664</text>
<text x="1831.8" y="399.3" font-size="4.4" fill="#3a3a3a">670</text>
<text x="1840.8" y="392.3" font-size="4.4" fill="#3a3a3a">665</text>
<text x="1835.9" y="399.7" font-size="4.4" fill="#3a3a3a">653</text>
<text x="1837.0" y="394.9" font-size="4.4" fill="#3a3a3a">660</text>
<text x="1845.7" y="385.6" font-size="4.4" fill="#3a3a3a">646</text>
<text x="1846.7" y="395.2" font-size="4.4" fill="#3a3a3a">671</text>
<text x="1850.1" y="399.3" font-size="4.4" fill="#3a3a3a">643</text>
<text x="1851.4" y="389.2" font-size="4.4" fill="#3a3a3a">735</text>
<text x="1842.5" y="398.7" font-size="4.4" fill="#3a3a3a">715</text>
<text x="1848.6" y="394.3" font-size="4.4" fill="#3a3a3a">626</text>
<text transform="translate(1431.9,452.5) rotate(-90)" text-anchor="end" font-size="4" fill="#595959">Cardiovex</text>
<text transform="translate(1443.9,452.5) rotate(-90)" text-anchor="end" font-size="4" fill="#595959">Gynofolic</text>
<text transform="translate(1455.9,452.5) rotate(-90)" text-anchor="end" font-size="4" fill="#595959">Immunova</text>
<text transform="translate(1467.9,452.5) rotate(-90)" text-anchor="end" font-size="4" fill="#595959">Osteocare Plus</text>
<text transform="translate(1479.9,452.5) rotate(-90)" text-anchor="end" font-size="4" fill="#595959">Respira</text>
<text transform="translate(1491.9,452.5) rotate(-90)" text-anchor="end" font-size="4" fill="#595959">Vitacare D3</text>
<text transform="translate(1503.9,452.5) rotate(-90)" text-anchor="end" font-size="4" fill="#595959">Cardiovex</text>
<text transform="translate(1515.9,452.5) rotate(-90)" text-anchor="end" font-size="4" fill="#595959">Gynofolic</text>
<text transform="translate(1527.9,452.5) rotate(-90)" text-anchor="end" font-size="4" fill="#595959">Immunova</text>
<text transform="translate(1539.9,452.5) rotate(-90)" text-anchor="end" font-size="4" fill="#595959">Osteocare Plus</text>
<text transform="translate(1551.9,452.5) rotate(-90)" text-anchor="end" font-size="4" fill="#595959">Respira</text>
<text transform="translate(1563.9,452.5) rotate(-90)" text-anchor="end" font-size="4" fill="#595959">Vitacare D3</text>
<text transform="translate(1575.9,452.5) rotate(-90)" text-anchor="end" font-size="4" fill="#595959">Cardiovex</text>
<text transform="translate(1587.9,452.5) rotate(-90)" text-anchor="end" font-size="4" fill="#595959">Gynofolic</text>
<text transform="translate(1599.9,452.5) rotate(-90)" text-anchor="end" font-size="4" fill="#595959">Immunova</text>
<text transform="translate(1611.9,452.5) rotate(-90)" text-anchor="end" font-size="4" fill="#595959">Osteocare Plus</text>
<text transform="translate(1623.9,452.5) rotate(-90)" text-anchor="end" font-size="4" fill="#595959">Respira</text>
<text transform="translate(1635.9,452.5) rotate(-90)" text-anchor="end" font-size="4" fill="#595959">Vitacare D3</text>
<text transform="translate(1647.9,452.5) rotate(-90)" text-anchor="end" font-size="4" fill="#595959">Cardiovex</text>
<text transform="translate(1659.9,452.5) rotate(-90)" text-anchor="end" font-size="4" fill="#595959">Gynofolic</text>
<text transform="translate(1671.9,452.5) rotate(-90)" text-anchor="end" font-size="4" fill="#595959">Immunova</text>
<text transform="translate(1683.9,452.5) rotate(-90)" text-anchor="end" font-size="4" fill="#595959">Osteocare Plus</text>
<text transform="translate(1695.9,452.5) rotate(-90)" text-anchor="end" font-size="4" fill="#595959">Respira</text>
<text transform="translate(1707.9,452.5) rotate(-90)" text-anchor="end" font-size="4" fill="#595959">Vitacare D3</text>
<text transform="translate(1719.9,452.5) rotate(-90)" text-anchor="end" font-size="4" fill="#595959">Cardiovex</text>
<text transform="translate(1731.9,452.5) rotate(-90)" text-anchor="end" font-size="4" fill="#595959">Gynofolic</text>
<text transform="translate(1743.9,452.5) rotate(-90)" text-anchor="end" font-size="4" fill="#595959">Immunova</text>
<text transform="translate(1755.9,452.5) rotate(-90)" text-anchor="end" font-size="4" fill="#595959">Osteocare Plus</text>
<text transform="translate(1767.9,452.5) rotate(-90)" text-anchor="end" font-size="4" fill="#595959">Respira</text>
<text transform="translate(1779.9,452.5) rotate(-90)" text-anchor="end" font-size="4" fill="#595959">Vitacare D3</text>
<text transform="translate(1791.9,452.5) rotate(-90)" text-anchor="end" font-size="4" fill="#595959">Cardiovex</text>
<text transform="translate(1803.9,452.5) rotate(-90)" text-anchor="end" font-size="4" fill="#595959">Gynofolic</text>
<text transform="translate(1815.9,452.5) rotate(-90)" text-anchor="end" font-size="4" fill="#595959">Immunova</text>
<text transform="translate(1827.9,452.5) rotate(-90)" text-anchor="end" font-size="4" fill="#595959">Osteocare Plus</text>
<text transform="translate(1839.9,452.5) rotate(-90)" text-anchor="end" font-size="4" fill="#595959">Respira</text>
<text transform="translate(1851.9,452.5) rotate(-90)" text-anchor="end" font-size="4" fill="#595959">Vitacare D3</text>
<text x="1460.9" y="486" text-anchor="middle" font-size="4" fill="#595959">Ahmed Shaker</text>
<text x="1532.9" y="486" text-anchor="middle" font-size="4" fill="#595959">Mahmoud Zaki</text>
<text x="1604.9" y="486" text-anchor="middle" font-size="4" fill="#595959">Wael Saad</text>
<text x="1676.9" y="486" text-anchor="middle" font-size="4" fill="#595959">Ahmed Fathy</text>
<text x="1748.9" y="486" text-anchor="middle" font-size="4" fill="#595959">Mohamed Adel</text>
<text x="1820.9" y="486" text-anchor="middle" font-size="4" fill="#595959">Mostafa Samy</text>
<text x="1460.9" y="494" text-anchor="middle" font-size="4" fill="#595959">Alexandria</text>
<text x="1532.9" y="494" text-anchor="middle" font-size="4" fill="#595959">Canal</text>
<text x="1604.9" y="494" text-anchor="middle" font-size="4" fill="#595959">Delta</text>
<text x="1712.9" y="494" text-anchor="middle" font-size="4" fill="#595959">Greater Cairo</text>
<text x="1820.9" y="494" text-anchor="middle" font-size="4" fill="#595959">Upper Egypt</text>
</svg>
<div style="position:absolute;left:1411.8px;top:529px;width:445px;height:110px;background:linear-gradient(to right,#1E2437 0%,#1B2439 50%,#1B2438 80%,#1F2533 92%,#23262F 100%)"></div>
<svg style="position:absolute;left:0;top:0" width="1856" height="639">
<g>
<rect x="1430.9" y="547.9" width="15.2" height="15" rx="1.6" fill="#F6F6F6"/>
<rect x="1435.6" y="552.2" width="8.2" height="8.6" rx="1.4" fill="#DDDDE2"/>
<g fill="#F07020"><rect x="1432.2" y="549.2" width="2.4" height="2.4"/><rect x="1436" y="549.2" width="2.4" height="2.4"/><rect x="1440" y="549.2" width="2.3" height="2.4"/><rect x="1432.2" y="553.1" width="2.4" height="2.3"/><rect x="1432.2" y="557" width="2.4" height="2.2"/></g>
<circle cx="1448.6" cy="558.2" r="2.1" fill="none" stroke="#3A96F0" stroke-width="1.2"/>
<circle cx="1441.6" cy="565.3" r="2.1" fill="none" stroke="#3A96F0" stroke-width="1.2"/>
</g>
<text x="1461" y="562.6" font-size="15.4" fill="#FFFFFF" textLength="92" lengthAdjust="spacingAndGlyphs">Snipping Tool</text>
<g fill="#E0E0E0"><circle cx="1776" cy="558.3" r="1"/><circle cx="1782.2" cy="558.3" r="1"/><circle cx="1788.4" cy="558.3" r="1"/></g>
<path d="M1826.4,553 L1838.2,564.6 M1838.2,553 L1826.4,564.6" stroke="#E8E8E8" stroke-width="1.1"/>
<text x="1431" y="612" font-size="17.6" fill="#FFFFFF" textLength="240.5" lengthAdjust="spacingAndGlyphs">Screenshot copied to clipboard</text>
<text x="1431" y="635.5" font-size="17.4" fill="#C8CAD2" textLength="324.6" lengthAdjust="spacingAndGlyphs">Automatically saved to screenshots folder.</text>
</svg>
</body></html>
